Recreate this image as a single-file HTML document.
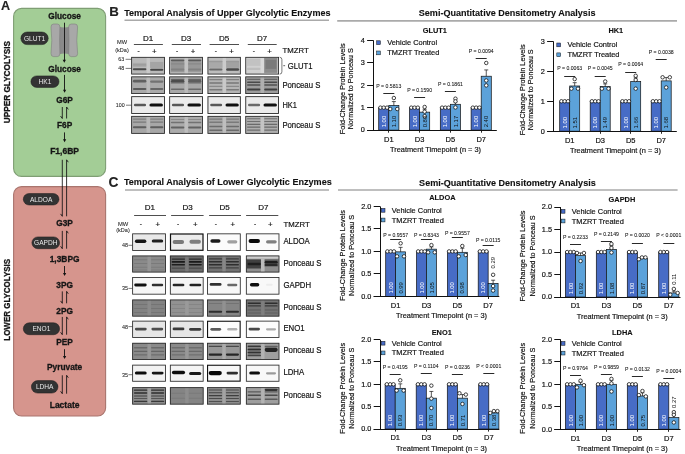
<!DOCTYPE html>
<html><head><meta charset="utf-8"><style>
html,body{margin:0;padding:0;background:#fff;}
svg{display:block;font-family:"Liberation Sans", sans-serif;will-change:transform;}
text{stroke:#111;stroke-width:0.18px;}
text[fill="#fff"]{stroke:#fff;}
text[fill="#e8e8e8"]{stroke:none;}
text[font-weight="bold"]{stroke-width:0.1px;}
text[font-size="5.9"]{stroke-width:0;}
</style></head><body>
<svg width="685" height="454" viewBox="0 0 685 454">
<defs><filter id="b1" x="-20%" y="-50%" width="140%" height="200%"><feGaussianBlur stdDeviation="0.5"/></filter><filter id="bb" x="-10%" y="-30%" width="120%" height="160%" color-interpolation-filters="sRGB"><feGaussianBlur stdDeviation="0.7"/></filter></defs>
<rect width="685" height="454" fill="#fff"/>
<text x="0.90" y="9.90" font-size="12.6" font-weight="bold" text-anchor="start" fill="#222" >A</text><rect x="13.6" y="8.4" width="92" height="168" rx="8" fill="#a3cd96" stroke="#7f9e74" stroke-width="1.1"/><rect x="13.6" y="186.6" width="92" height="229.4" rx="8" fill="#d6958d" stroke="#a9756e" stroke-width="1.1"/><text transform="translate(10.4,123.2) rotate(-90)" font-size="9.2"  font-weight="bold" fill="#161616" style="stroke-width:0.3px;stroke:#161616" textLength="82.2" lengthAdjust="spacingAndGlyphs">UPPER GLYCOLYSIS</text><text transform="translate(10.0,340.7) rotate(-90)" font-size="9.2" font-weight="bold" fill="#161616" style="stroke-width:0.3px;stroke:#161616" textLength="81.8" lengthAdjust="spacingAndGlyphs">LOWER GLYCOLYSIS</text><text x="64.60" y="18.60" font-size="8.3" font-weight="bold" text-anchor="middle" fill="#161616" style="stroke-width:0.3px;stroke:#161616">Glucose</text><text x="64.60" y="71.60" font-size="8.3" font-weight="bold" text-anchor="middle" fill="#161616" style="stroke-width:0.3px;stroke:#161616">Glucose</text><text x="64.60" y="103.20" font-size="8.3" font-weight="bold" text-anchor="middle" fill="#161616" style="stroke-width:0.3px;stroke:#161616">G6P</text><text x="64.60" y="128.40" font-size="8.3" font-weight="bold" text-anchor="middle" fill="#161616" style="stroke-width:0.3px;stroke:#161616">F6P</text><text x="64.60" y="153.60" font-size="8.5" font-weight="bold" text-anchor="middle" fill="#161616" style="stroke-width:0.3px;stroke:#161616">F1,6BP</text><text x="64.60" y="225.80" font-size="8.3" font-weight="bold" text-anchor="middle" fill="#161616" style="stroke-width:0.3px;stroke:#161616">G3P</text><text x="64.60" y="261.80" font-size="8.4" font-weight="bold" text-anchor="middle" fill="#161616" style="stroke-width:0.3px;stroke:#161616">1,3BPG</text><text x="64.60" y="288.20" font-size="8.3" font-weight="bold" text-anchor="middle" fill="#161616" style="stroke-width:0.3px;stroke:#161616">3PG</text><text x="64.60" y="313.60" font-size="8.3" font-weight="bold" text-anchor="middle" fill="#161616" style="stroke-width:0.3px;stroke:#161616">2PG</text><text x="64.60" y="344.90" font-size="8.3" font-weight="bold" text-anchor="middle" fill="#161616" style="stroke-width:0.3px;stroke:#161616">PEP</text><text x="64.60" y="370.20" font-size="8.4" font-weight="bold" text-anchor="middle" fill="#161616" style="stroke-width:0.3px;stroke:#161616">Pyruvate</text><text x="64.60" y="407.60" font-size="8.5" font-weight="bold" text-anchor="middle" fill="#161616" style="stroke-width:0.3px;stroke:#161616">Lactate</text><path d="M58.6,26.4 Q64.3,28.6 70.0,26.4 L70.0,54.6 Q64.3,52.6 58.6,54.6 Z" fill="#8a8a8a"/><path d="M53.6,24 L57.3,24 Q59.9,24 59.9,27 Q59.3,40.3 59.9,53.6 Q59.9,56.6 57.3,56.6 L53.6,56.6 Q51,56.6 51,53.6 Q52.6,40.3 51,27 Q51,24 53.6,24 Z" fill="#a8a8a8" stroke="#7a7a7a" stroke-width="0.55"/><path d="M75.0,24 L71.3,24 Q68.7,24 68.7,27 Q69.3,40.3 68.7,53.6 Q68.7,56.6 71.3,56.6 L75.0,56.6 Q77.6,56.6 77.6,53.6 Q76.0,40.3 77.6,27 Q77.6,24 75.0,24 Z" fill="#a8a8a8" stroke="#7a7a7a" stroke-width="0.55"/><line x1="64.50" y1="22.70" x2="64.50" y2="60.60" stroke="#111" stroke-width="0.9"/><path d="M62.70,59.80 L65.90,59.80 L64.30,62.80 Z" fill="#111"/><line x1="64.50" y1="74.90" x2="64.50" y2="90.50" stroke="#111" stroke-width="0.9"/><path d="M63.00,89.70 L66.20,89.70 L64.60,92.70 Z" fill="#111"/><line x1="64.50" y1="132.40" x2="64.50" y2="140.10" stroke="#111" stroke-width="0.9"/><path d="M63.00,139.30 L66.20,139.30 L64.60,142.30 Z" fill="#111"/><line x1="64.50" y1="266.00" x2="64.50" y2="273.70" stroke="#111" stroke-width="0.9"/><path d="M63.00,272.90 L66.20,272.90 L64.60,275.90 Z" fill="#111"/><line x1="64.50" y1="349.20" x2="64.50" y2="356.90" stroke="#111" stroke-width="0.9"/><path d="M63.00,356.10 L66.20,356.10 L64.60,359.10 Z" fill="#111"/><path d="M62.30,107.00 L62.30,118.50 L60.60,116.10" fill="none" stroke="#111" stroke-width="0.85"/><path d="M66.60,118.50 L66.60,107.00 L68.30,109.40" fill="none" stroke="#111" stroke-width="0.85"/><path d="M62.30,159.80 L62.30,216.30 L60.60,213.90" fill="none" stroke="#111" stroke-width="0.85"/><path d="M66.60,216.30 L66.60,159.80 L68.30,162.20" fill="none" stroke="#111" stroke-width="0.85"/><path d="M62.30,230.90 L62.30,248.70 L60.60,246.30" fill="none" stroke="#111" stroke-width="0.85"/><path d="M66.60,248.70 L66.60,230.90 L68.30,233.30" fill="none" stroke="#111" stroke-width="0.85"/><path d="M62.30,291.40 L62.30,303.30 L60.60,300.90" fill="none" stroke="#111" stroke-width="0.85"/><path d="M66.60,303.30 L66.60,291.40 L68.30,293.80" fill="none" stroke="#111" stroke-width="0.85"/><path d="M62.30,316.90 L62.30,334.70 L60.60,332.30" fill="none" stroke="#111" stroke-width="0.85"/><path d="M66.60,334.70 L66.60,316.90 L68.30,319.30" fill="none" stroke="#111" stroke-width="0.85"/><path d="M62.30,375.30 L62.30,393.70 L60.60,391.30" fill="none" stroke="#111" stroke-width="0.85"/><path d="M66.60,393.70 L66.60,375.30 L68.30,377.70" fill="none" stroke="#111" stroke-width="0.85"/><rect x="20.90" y="32.00" width="27.30" height="12.60" rx="6.30" fill="#333333" stroke="#1c1c1c" stroke-width="0.5"/><text x="34.55" y="40.68" font-size="6.6" text-anchor="middle" fill="#e8e8e8" >GLUT1</text><rect x="30.90" y="75.90" width="28.10" height="11.50" rx="5.75" fill="#333333" stroke="#1c1c1c" stroke-width="0.5"/><text x="44.95" y="84.03" font-size="6.6" text-anchor="middle" fill="#e8e8e8" >HK1</text><rect x="23.30" y="193.50" width="35.70" height="11.50" rx="5.75" fill="#333333" stroke="#1c1c1c" stroke-width="0.5"/><text x="41.15" y="201.63" font-size="6.6" text-anchor="middle" fill="#e8e8e8" >ALDOA</text><rect x="31.90" y="236.90" width="27.70" height="11.80" rx="5.90" fill="#333333" stroke="#1c1c1c" stroke-width="0.5"/><text x="45.75" y="245.18" font-size="6.6" text-anchor="middle" fill="#e8e8e8" >GAPDH</text><rect x="23.30" y="322.80" width="36.30" height="11.90" rx="5.95" fill="#333333" stroke="#1c1c1c" stroke-width="0.5"/><text x="41.45" y="331.13" font-size="6.6" text-anchor="middle" fill="#e8e8e8" >ENO1</text><rect x="31.40" y="380.60" width="26.60" height="12.50" rx="6.25" fill="#333333" stroke="#1c1c1c" stroke-width="0.5"/><text x="44.70" y="389.23" font-size="6.6" text-anchor="middle" fill="#e8e8e8" >LDHA</text><text x="109.20" y="16.00" font-size="13.3" font-weight="bold" text-anchor="start" fill="#222" >B</text><text x="124.20" y="15.80" font-size="9.04" font-weight="bold" text-anchor="start" fill="#111" >Temporal Analysis of Upper Glycolytic Enzymes</text><line x1="124.50" y1="20.30" x2="329.00" y2="20.30" stroke="#aaaaaa" stroke-width="1.6"/><text x="148.10" y="41.20" font-size="8.0" text-anchor="middle" fill="#111" >D1</text><line x1="133.90" y1="44.50" x2="162.90" y2="44.50" stroke="#222" stroke-width="0.8"/><text x="138.60" y="52.70" font-size="6.5" text-anchor="middle" fill="#111" >-</text><text x="154.40" y="53.50" font-size="7.8" text-anchor="middle" fill="#111" >+</text><text x="186.10" y="41.20" font-size="8.0" text-anchor="middle" fill="#111" >D3</text><line x1="171.80" y1="44.50" x2="201.00" y2="44.50" stroke="#222" stroke-width="0.8"/><text x="177.20" y="52.70" font-size="6.5" text-anchor="middle" fill="#111" >-</text><text x="193.00" y="53.50" font-size="7.8" text-anchor="middle" fill="#111" >+</text><text x="224.15" y="41.20" font-size="8.0" text-anchor="middle" fill="#111" >D5</text><line x1="209.60" y1="44.50" x2="239.00" y2="44.50" stroke="#222" stroke-width="0.8"/><text x="215.80" y="52.70" font-size="6.5" text-anchor="middle" fill="#111" >-</text><text x="231.60" y="53.50" font-size="7.8" text-anchor="middle" fill="#111" >+</text><text x="262.15" y="41.20" font-size="8.0" text-anchor="middle" fill="#111" >D7</text><line x1="247.80" y1="44.50" x2="276.70" y2="44.50" stroke="#222" stroke-width="0.8"/><text x="253.80" y="52.70" font-size="6.5" text-anchor="middle" fill="#111" >-</text><text x="269.50" y="53.50" font-size="7.8" text-anchor="middle" fill="#111" >+</text><text x="282.50" y="53.40" font-size="8.0" text-anchor="start" fill="#111" textLength="26.21" lengthAdjust="spacingAndGlyphs">TMZRT</text><text x="122.00" y="43.80" font-size="5.7" text-anchor="middle" fill="#222"  style="stroke-width:0.06px">MW</text><text x="122.00" y="51.60" font-size="5.5" text-anchor="middle" fill="#222"  style="stroke-width:0.06px">(kDa)</text><clipPath id="c1"><rect x="131.20" y="56.90" width="33.80" height="17.60"/></clipPath><g clip-path="url(#c1)"><rect x="131.20" y="56.90" width="33.80" height="17.60" fill="#bababa" /><g filter="url(#bb)"><rect x="132.89" y="62.90" width="13.52" height="4.00" fill="#aaaaaa" /><rect x="150.13" y="61.90" width="13.18" height="6.00" fill="#a4a4a4" /><rect x="132.89" y="68.35" width="13.52" height="1.90" fill="#4a4a4a" rx="0.95"/><rect x="150.13" y="68.65" width="13.18" height="2.10" fill="#454545" rx="1.05"/><rect x="132.89" y="64.20" width="13.52" height="1.40" fill="#9a9a9a" rx="0.70"/><rect x="146.58" y="54.90" width="3.38" height="21.60" fill="#ffffff" opacity="0.22"/></g></g><rect x="131.62" y="57.32" width="32.95" height="16.75" fill="none" stroke="#2a2a2a" stroke-width="0.85"/><clipPath id="c2"><rect x="169.20" y="56.90" width="33.80" height="17.60"/></clipPath><g clip-path="url(#c2)"><rect x="169.20" y="56.90" width="33.80" height="17.60" fill="#b3b3b3" /><g filter="url(#bb)"><rect x="170.89" y="59.60" width="13.52" height="1.80" fill="#5c5c5c" rx="0.90"/><rect x="188.13" y="59.60" width="13.18" height="1.80" fill="#5c5c5c" rx="0.90"/><rect x="170.89" y="61.90" width="13.52" height="10.00" fill="#959595" /><rect x="188.13" y="61.90" width="13.18" height="10.00" fill="#989898" /><rect x="170.89" y="63.30" width="13.52" height="1.20" fill="#888" rx="0.60"/><rect x="188.13" y="63.30" width="13.18" height="1.20" fill="#888" rx="0.60"/><rect x="170.89" y="68.40" width="13.52" height="2.00" fill="#828282" rx="1.00"/><rect x="188.13" y="68.40" width="13.18" height="2.00" fill="#828282" rx="1.00"/><rect x="184.58" y="54.90" width="3.38" height="21.60" fill="#ffffff" opacity="0.22"/></g></g><rect x="169.62" y="57.32" width="32.95" height="16.75" fill="none" stroke="#2a2a2a" stroke-width="0.85"/><clipPath id="c3"><rect x="207.50" y="56.90" width="33.30" height="17.60"/></clipPath><g clip-path="url(#c3)"><rect x="207.50" y="56.90" width="33.30" height="17.60" fill="#bdbdbd" /><g filter="url(#bb)"><rect x="209.16" y="60.90" width="13.32" height="7.00" fill="#a9a9a9" /><rect x="226.15" y="60.90" width="12.99" height="7.00" fill="#a2a2a2" /><rect x="209.16" y="68.40" width="13.32" height="2.20" fill="#6a6a6a" rx="1.10"/><rect x="226.15" y="68.30" width="12.99" height="2.40" fill="#4a4a4a" rx="1.20"/><rect x="209.16" y="60.65" width="13.32" height="1.50" fill="#9a9a9a" rx="0.75"/><rect x="226.15" y="60.65" width="12.99" height="1.50" fill="#9a9a9a" rx="0.75"/><rect x="222.65" y="54.90" width="3.33" height="21.60" fill="#ffffff" opacity="0.22"/></g></g><rect x="207.93" y="57.32" width="32.45" height="16.75" fill="none" stroke="#2a2a2a" stroke-width="0.85"/><clipPath id="c4"><rect x="245.30" y="56.90" width="33.70" height="17.60"/></clipPath><g clip-path="url(#c4)"><rect x="245.30" y="56.90" width="33.70" height="17.60" fill="#d0d0d0" /><g filter="url(#bb)"><rect x="246.99" y="58.90" width="13.48" height="7.00" fill="#c2c2c2" /><rect x="246.99" y="67.85" width="13.48" height="2.10" fill="#bdbdbd" rx="1.05"/><rect x="264.17" y="57.90" width="13.14" height="15.00" fill="#8c8c8c" /><rect x="265.52" y="59.90" width="10.78" height="9.00" fill="#7a7a7a" /><rect x="260.63" y="54.90" width="3.37" height="21.60" fill="#ffffff" opacity="0.2"/></g></g><rect x="245.73" y="57.32" width="32.85" height="16.75" fill="none" stroke="#2a2a2a" stroke-width="0.85"/><clipPath id="c5"><rect x="131.20" y="76.40" width="33.80" height="17.60"/></clipPath><g clip-path="url(#c5)"><rect x="131.20" y="76.40" width="33.80" height="17.60" fill="#a9a9a9" /><g filter="url(#bb)"><rect x="132.89" y="79.80" width="13.52" height="2.80" fill="#606060" rx="1.40"/><rect x="150.13" y="80.40" width="13.18" height="2.40" fill="#727272" rx="1.20"/><rect x="132.89" y="87.90" width="13.52" height="2.20" fill="#5a5a5a" rx="1.10"/><rect x="150.13" y="87.90" width="13.18" height="2.20" fill="#666" rx="1.10"/><rect x="146.58" y="74.40" width="3.38" height="21.60" fill="#ffffff" opacity="0.2"/></g></g><rect x="131.62" y="76.83" width="32.95" height="16.75" fill="none" stroke="#2a2a2a" stroke-width="0.85"/><clipPath id="c6"><rect x="169.20" y="76.40" width="33.80" height="17.60"/></clipPath><g clip-path="url(#c6)"><rect x="169.20" y="76.40" width="33.80" height="17.60" fill="#a8a8a8" /><g filter="url(#bb)"><rect x="170.89" y="78.70" width="13.52" height="1.40" fill="#6a6a6a" rx="0.70"/><rect x="188.13" y="78.70" width="13.18" height="1.40" fill="#6a6a6a" rx="0.70"/><rect x="170.89" y="79.70" width="13.52" height="3.00" fill="#4c4c4c" rx="1.50"/><rect x="188.13" y="79.80" width="13.18" height="2.80" fill="#5e5e5e" rx="1.40"/><rect x="170.89" y="82.20" width="13.52" height="1.40" fill="#6a6a6a" rx="0.70"/><rect x="188.13" y="82.20" width="13.18" height="1.40" fill="#6a6a6a" rx="0.70"/><rect x="170.89" y="88.40" width="13.52" height="1.60" fill="#6a6a6a" rx="0.80"/><rect x="188.13" y="88.40" width="13.18" height="1.60" fill="#6a6a6a" rx="0.80"/><rect x="184.58" y="74.40" width="3.38" height="21.60" fill="#ffffff" opacity="0.2"/></g></g><rect x="169.62" y="76.83" width="32.95" height="16.75" fill="none" stroke="#2a2a2a" stroke-width="0.85"/><clipPath id="c7"><rect x="207.50" y="76.40" width="33.30" height="17.60"/></clipPath><g clip-path="url(#c7)"><rect x="207.50" y="76.40" width="33.30" height="17.60" fill="#b4b4b4" /><g filter="url(#bb)"><rect x="209.16" y="79.00" width="13.32" height="1.20" fill="#808080" rx="0.60"/><rect x="226.15" y="79.00" width="12.99" height="1.20" fill="#808080" rx="0.60"/><rect x="209.16" y="82.20" width="13.32" height="1.60" fill="#777" rx="0.80"/><rect x="226.15" y="82.20" width="12.99" height="1.60" fill="#777" rx="0.80"/><rect x="209.16" y="85.80" width="13.32" height="1.20" fill="#8a8a8a" rx="0.60"/><rect x="226.15" y="85.80" width="12.99" height="1.20" fill="#8a8a8a" rx="0.60"/><rect x="209.16" y="89.00" width="13.32" height="1.60" fill="#7a7a7a" rx="0.80"/><rect x="226.15" y="89.00" width="12.99" height="1.60" fill="#7a7a7a" rx="0.80"/><rect x="222.65" y="74.40" width="3.33" height="21.60" fill="#ffffff" opacity="0.28"/></g></g><rect x="207.93" y="76.83" width="32.45" height="16.75" fill="none" stroke="#2a2a2a" stroke-width="0.85"/><clipPath id="c8"><rect x="245.30" y="76.40" width="33.70" height="17.60"/></clipPath><g clip-path="url(#c8)"><rect x="245.30" y="76.40" width="33.70" height="17.60" fill="#9c9c9c" /><g filter="url(#bb)"><rect x="246.99" y="78.70" width="13.48" height="1.40" fill="#666" rx="0.70"/><rect x="264.17" y="78.70" width="13.14" height="1.40" fill="#666" rx="0.70"/><rect x="246.99" y="81.40" width="13.48" height="1.60" fill="#4a4a4a" rx="0.80"/><rect x="264.17" y="81.40" width="13.14" height="1.60" fill="#4a4a4a" rx="0.80"/><rect x="246.99" y="84.20" width="13.48" height="1.60" fill="#505050" rx="0.80"/><rect x="264.17" y="84.20" width="13.14" height="1.60" fill="#505050" rx="0.80"/><rect x="246.99" y="88.40" width="13.48" height="2.00" fill="#3e3e3e" rx="1.00"/><rect x="264.17" y="88.40" width="13.14" height="2.00" fill="#3e3e3e" rx="1.00"/><rect x="260.63" y="74.40" width="3.37" height="21.60" fill="#ffffff" opacity="0.2"/></g></g><rect x="245.73" y="76.83" width="32.85" height="16.75" fill="none" stroke="#2a2a2a" stroke-width="0.85"/><clipPath id="c9"><rect x="131.20" y="96.20" width="33.80" height="17.70"/></clipPath><g clip-path="url(#c9)"><rect x="131.20" y="96.20" width="33.80" height="17.70" fill="#ebebeb" /><g filter="url(#bb)"><rect x="133.90" y="103.70" width="12.17" height="2.60" fill="#585858" rx="1.30"/><rect x="149.45" y="103.40" width="13.52" height="3.20" fill="#101010" rx="1.60"/></g></g><rect x="131.65" y="96.65" width="32.90" height="16.80" fill="none" stroke="#2a2a2a" stroke-width="0.9"/><clipPath id="c10"><rect x="169.20" y="96.20" width="33.80" height="17.70"/></clipPath><g clip-path="url(#c10)"><rect x="169.20" y="96.20" width="33.80" height="17.70" fill="#ebebeb" /><g filter="url(#bb)"><rect x="171.90" y="103.70" width="12.17" height="2.60" fill="#585858" rx="1.30"/><rect x="187.45" y="103.40" width="13.52" height="3.20" fill="#101010" rx="1.60"/></g></g><rect x="169.65" y="96.65" width="32.90" height="16.80" fill="none" stroke="#2a2a2a" stroke-width="0.9"/><clipPath id="c11"><rect x="207.50" y="96.20" width="33.30" height="17.70"/></clipPath><g clip-path="url(#c11)"><rect x="207.50" y="96.20" width="33.30" height="17.70" fill="#ebebeb" /><g filter="url(#bb)"><rect x="210.16" y="103.70" width="11.99" height="2.60" fill="#585858" rx="1.30"/><rect x="225.48" y="103.40" width="13.32" height="3.20" fill="#101010" rx="1.60"/></g></g><rect x="207.95" y="96.65" width="32.40" height="16.80" fill="none" stroke="#2a2a2a" stroke-width="0.9"/><clipPath id="c12"><rect x="245.30" y="96.20" width="33.70" height="17.70"/></clipPath><g clip-path="url(#c12)"><rect x="245.30" y="96.20" width="33.70" height="17.70" fill="#ebebeb" /><g filter="url(#bb)"><rect x="248.00" y="103.70" width="12.13" height="2.60" fill="#6a6a6a" rx="1.30"/><rect x="263.50" y="103.40" width="13.48" height="3.20" fill="#101010" rx="1.60"/></g></g><rect x="245.75" y="96.65" width="32.80" height="16.80" fill="none" stroke="#2a2a2a" stroke-width="0.9"/><clipPath id="c13"><rect x="131.20" y="115.90" width="33.80" height="17.90"/></clipPath><g clip-path="url(#c13)"><rect x="131.20" y="115.90" width="33.80" height="17.90" fill="#a7a7a7" /><g filter="url(#bb)"><rect x="132.89" y="118.50" width="13.52" height="1.20" fill="#808080" rx="0.60"/><rect x="150.13" y="118.50" width="13.18" height="1.20" fill="#808080" rx="0.60"/><rect x="132.89" y="121.40" width="13.52" height="1.40" fill="#7a7a7a" rx="0.70"/><rect x="150.13" y="121.40" width="13.18" height="1.40" fill="#7a7a7a" rx="0.70"/><rect x="132.89" y="126.30" width="13.52" height="2.00" fill="#5e5e5e" rx="1.00"/><rect x="150.13" y="126.30" width="13.18" height="2.00" fill="#5e5e5e" rx="1.00"/><rect x="146.58" y="113.90" width="3.38" height="21.90" fill="#ffffff" opacity="0.2"/></g></g><rect x="131.62" y="116.33" width="32.95" height="17.05" fill="none" stroke="#2a2a2a" stroke-width="0.85"/><clipPath id="c14"><rect x="169.20" y="115.90" width="33.80" height="17.90"/></clipPath><g clip-path="url(#c14)"><rect x="169.20" y="115.90" width="33.80" height="17.90" fill="#ababab" /><g filter="url(#bb)"><rect x="170.89" y="118.90" width="13.52" height="1.00" fill="#8a8a8a" rx="0.50"/><rect x="188.13" y="118.90" width="13.18" height="1.00" fill="#8a8a8a" rx="0.50"/><rect x="170.89" y="121.70" width="13.52" height="1.60" fill="#727272" rx="0.80"/><rect x="188.13" y="121.70" width="13.18" height="1.60" fill="#727272" rx="0.80"/><rect x="170.89" y="126.50" width="13.52" height="2.00" fill="#626262" rx="1.00"/><rect x="188.13" y="126.50" width="13.18" height="2.00" fill="#626262" rx="1.00"/><rect x="184.58" y="113.90" width="3.38" height="21.90" fill="#ffffff" opacity="0.22"/></g></g><rect x="169.62" y="116.33" width="32.95" height="17.05" fill="none" stroke="#2a2a2a" stroke-width="0.85"/><clipPath id="c15"><rect x="207.50" y="115.90" width="33.30" height="17.90"/></clipPath><g clip-path="url(#c15)"><rect x="207.50" y="115.90" width="33.30" height="17.90" fill="#a6a6a6" /><g filter="url(#bb)"><rect x="209.16" y="118.40" width="13.32" height="1.40" fill="#7a7a7a" rx="0.70"/><rect x="226.15" y="118.40" width="12.99" height="1.40" fill="#7a7a7a" rx="0.70"/><rect x="209.16" y="121.60" width="13.32" height="1.40" fill="#7a7a7a" rx="0.70"/><rect x="226.15" y="121.60" width="12.99" height="1.40" fill="#7a7a7a" rx="0.70"/><rect x="209.16" y="125.70" width="13.32" height="1.60" fill="#6c6c6c" rx="0.80"/><rect x="226.15" y="125.70" width="12.99" height="1.60" fill="#6c6c6c" rx="0.80"/><rect x="209.16" y="129.60" width="13.32" height="1.40" fill="#6a6a6a" rx="0.70"/><rect x="226.15" y="129.60" width="12.99" height="1.40" fill="#6a6a6a" rx="0.70"/><rect x="222.65" y="113.90" width="3.33" height="21.90" fill="#ffffff" opacity="0.28"/></g></g><rect x="207.93" y="116.33" width="32.45" height="17.05" fill="none" stroke="#2a2a2a" stroke-width="0.85"/><clipPath id="c16"><rect x="245.30" y="115.90" width="33.70" height="17.90"/></clipPath><g clip-path="url(#c16)"><rect x="245.30" y="115.90" width="33.70" height="17.90" fill="#aeaeae" /><g filter="url(#bb)"><rect x="246.99" y="118.20" width="13.48" height="1.00" fill="#707070" rx="0.50"/><rect x="264.17" y="118.20" width="13.14" height="1.00" fill="#707070" rx="0.50"/><rect x="246.99" y="121.00" width="13.48" height="1.00" fill="#707070" rx="0.50"/><rect x="264.17" y="121.00" width="13.14" height="1.00" fill="#707070" rx="0.50"/><rect x="246.99" y="123.70" width="13.48" height="1.20" fill="#6a6a6a" rx="0.60"/><rect x="264.17" y="123.70" width="13.14" height="1.20" fill="#6a6a6a" rx="0.60"/><rect x="246.99" y="126.50" width="13.48" height="1.20" fill="#6a6a6a" rx="0.60"/><rect x="264.17" y="126.50" width="13.14" height="1.20" fill="#6a6a6a" rx="0.60"/><rect x="246.99" y="129.50" width="13.48" height="1.20" fill="#6e6e6e" rx="0.60"/><rect x="264.17" y="129.50" width="13.14" height="1.20" fill="#6e6e6e" rx="0.60"/><rect x="260.63" y="113.90" width="3.37" height="21.90" fill="#ffffff" opacity="0.28"/></g></g><rect x="245.73" y="116.33" width="32.85" height="17.05" fill="none" stroke="#2a2a2a" stroke-width="0.85"/><text x="287.70" y="68.60" font-size="8.4" text-anchor="start" fill="#111" textLength="24.82" lengthAdjust="spacingAndGlyphs">GLUT1</text><path d="M279.7,57.3 Q281.9,57.3 281.9,59.6 L281.9,71.8 Q281.9,74.1 279.7,74.1" fill="none" stroke="#222" stroke-width="0.6"/><path d="M283.3,65.7 L285.1,65.7" fill="none" stroke="#222" stroke-width="0.7"/><text x="282.40" y="88.00" font-size="8.3" text-anchor="start" fill="#111" textLength="37.92" lengthAdjust="spacingAndGlyphs">Ponceau S</text><text x="282.40" y="107.80" font-size="8.3" text-anchor="start" fill="#111" textLength="14.49" lengthAdjust="spacingAndGlyphs">HK1</text><text x="282.40" y="127.70" font-size="8.3" text-anchor="start" fill="#111" textLength="37.92" lengthAdjust="spacingAndGlyphs">Ponceau S</text><text x="124.20" y="61.00" font-size="5.3" text-anchor="end" fill="#222"  style="stroke-width:0.06px">63</text><line x1="125.60" y1="59.30" x2="131.40" y2="59.30" stroke="#222" stroke-width="0.6"/><text x="124.20" y="70.00" font-size="5.3" text-anchor="end" fill="#222"  style="stroke-width:0.06px">48</text><line x1="125.60" y1="68.40" x2="131.40" y2="68.40" stroke="#222" stroke-width="0.6"/><text x="124.60" y="107.00" font-size="5.3" text-anchor="end" fill="#222"  style="stroke-width:0.06px">100</text><line x1="126.00" y1="105.20" x2="131.40" y2="105.20" stroke="#222" stroke-width="0.6"/><text x="108.60" y="186.50" font-size="13.8" font-weight="bold" text-anchor="start" fill="#222" >C</text><text x="123.90" y="185.20" font-size="9.08" font-weight="bold" text-anchor="start" fill="#111" >Temporal Analysis of Lower Glycolytic Enzymes</text><line x1="125.00" y1="190.00" x2="329.00" y2="190.00" stroke="#aaaaaa" stroke-width="1.6"/><text x="149.85" y="209.90" font-size="8.0" text-anchor="middle" fill="#111" >D1</text><line x1="134.10" y1="215.50" x2="166.00" y2="215.50" stroke="#222" stroke-width="0.8"/><text x="140.90" y="226.00" font-size="6.5" text-anchor="middle" fill="#111" >-</text><text x="157.90" y="227.00" font-size="7.8" text-anchor="middle" fill="#111" >+</text><text x="187.55" y="209.90" font-size="8.0" text-anchor="middle" fill="#111" >D3</text><line x1="171.10" y1="215.50" x2="203.60" y2="215.50" stroke="#222" stroke-width="0.8"/><text x="178.20" y="226.00" font-size="6.5" text-anchor="middle" fill="#111" >-</text><text x="195.20" y="227.00" font-size="7.8" text-anchor="middle" fill="#111" >+</text><text x="224.65" y="209.90" font-size="8.0" text-anchor="middle" fill="#111" >D5</text><line x1="209.10" y1="215.50" x2="241.00" y2="215.50" stroke="#222" stroke-width="0.8"/><text x="215.80" y="226.00" font-size="6.5" text-anchor="middle" fill="#111" >-</text><text x="232.80" y="227.00" font-size="7.8" text-anchor="middle" fill="#111" >+</text><text x="263.45" y="209.90" font-size="8.0" text-anchor="middle" fill="#111" >D7</text><line x1="246.10" y1="215.50" x2="278.30" y2="215.50" stroke="#222" stroke-width="0.8"/><text x="255.10" y="226.00" font-size="6.5" text-anchor="middle" fill="#111" >-</text><text x="270.40" y="227.00" font-size="7.8" text-anchor="middle" fill="#111" >+</text><text x="283.60" y="226.60" font-size="8.0" text-anchor="start" fill="#111" textLength="26.21" lengthAdjust="spacingAndGlyphs">TMZRT</text><text x="123.10" y="225.80" font-size="5.8" text-anchor="middle" fill="#222"  style="stroke-width:0.06px">MW</text><text x="123.00" y="232.30" font-size="5.5" text-anchor="middle" fill="#222"  style="stroke-width:0.06px">(kDa)</text><clipPath id="c17"><rect x="132.20" y="233.40" width="33.70" height="17.50"/></clipPath><g clip-path="url(#c17)"><rect x="132.20" y="233.40" width="33.70" height="17.50" fill="#e9e9e9" /><g filter="url(#bb)"><rect x="134.90" y="239.50" width="11.46" height="3.40" fill="#151515" rx="1.70"/><rect x="151.75" y="239.40" width="11.46" height="3.20" fill="#1e1e1e" rx="1.60"/></g></g><rect x="132.62" y="233.83" width="32.85" height="16.65" fill="none" stroke="#2a2a2a" stroke-width="0.85"/><clipPath id="c18"><rect x="169.90" y="233.40" width="33.70" height="17.50"/></clipPath><g clip-path="url(#c18)"><rect x="169.90" y="233.40" width="33.70" height="17.50" fill="#ececec" /><g filter="url(#bb)"><rect x="172.60" y="240.00" width="11.46" height="4.00" fill="#7a7a7a" rx="2.00"/><rect x="189.45" y="239.80" width="11.46" height="4.00" fill="#7e7e7e" rx="2.00"/></g></g><rect x="170.50" y="234.00" width="32.50" height="16.30" fill="none" stroke="#111" stroke-width="1.2"/><clipPath id="c19"><rect x="207.00" y="233.40" width="33.70" height="17.50"/></clipPath><g clip-path="url(#c19)"><rect x="207.00" y="233.40" width="33.70" height="17.50" fill="#fbfbfb" /><g filter="url(#bb)"><rect x="210.37" y="239.30" width="10.11" height="3.40" fill="#1a1a1a" rx="1.70"/><rect x="227.22" y="240.20" width="10.11" height="3.20" fill="#a0a0a0" rx="1.60"/></g></g><rect x="207.43" y="233.83" width="32.85" height="16.65" fill="none" stroke="#2a2a2a" stroke-width="0.85"/><clipPath id="c20"><rect x="245.90" y="233.40" width="33.50" height="17.50"/></clipPath><g clip-path="url(#c20)"><rect x="245.90" y="233.40" width="33.50" height="17.50" fill="#fbfbfb" /><g filter="url(#bb)"><rect x="248.58" y="239.00" width="11.39" height="4.00" fill="#0a0a0a" rx="2.00"/><rect x="266.00" y="240.20" width="10.72" height="3.20" fill="#808080" rx="1.60"/></g></g><rect x="246.33" y="233.83" width="32.65" height="16.65" fill="none" stroke="#2a2a2a" stroke-width="0.85"/><clipPath id="c21"><rect x="132.20" y="255.50" width="33.70" height="17.00"/></clipPath><g clip-path="url(#c21)"><rect x="132.20" y="255.50" width="33.70" height="17.00" fill="#8a8a8a" /><g filter="url(#bb)"><rect x="133.88" y="259.20" width="13.48" height="1.00" fill="#7a7a7a" rx="0.50"/><rect x="151.07" y="259.20" width="13.14" height="1.00" fill="#7a7a7a" rx="0.50"/><rect x="133.88" y="263.00" width="13.48" height="1.00" fill="#7a7a7a" rx="0.50"/><rect x="151.07" y="263.00" width="13.14" height="1.00" fill="#7a7a7a" rx="0.50"/><rect x="133.88" y="266.80" width="13.48" height="1.00" fill="#7c7c7c" rx="0.50"/><rect x="151.07" y="266.80" width="13.14" height="1.00" fill="#7c7c7c" rx="0.50"/><rect x="133.88" y="269.50" width="13.48" height="1.00" fill="#7c7c7c" rx="0.50"/><rect x="151.07" y="269.50" width="13.14" height="1.00" fill="#7c7c7c" rx="0.50"/><rect x="147.53" y="253.50" width="3.37" height="21.00" fill="#ffffff" opacity="0.1"/></g></g><rect x="132.62" y="255.93" width="32.85" height="16.15" fill="none" stroke="#2a2a2a" stroke-width="0.85"/><clipPath id="c22"><rect x="169.90" y="255.50" width="33.70" height="17.00"/></clipPath><g clip-path="url(#c22)"><rect x="169.90" y="255.50" width="33.70" height="17.00" fill="#6a6a6a" /><g filter="url(#bb)"><rect x="171.59" y="258.40" width="13.48" height="1.40" fill="#2a2a2a" rx="0.70"/><rect x="188.77" y="258.40" width="13.14" height="1.40" fill="#2a2a2a" rx="0.70"/><rect x="171.59" y="261.10" width="13.48" height="1.60" fill="#1a1a1a" rx="0.80"/><rect x="188.77" y="261.10" width="13.14" height="1.60" fill="#1a1a1a" rx="0.80"/><rect x="171.59" y="263.90" width="13.48" height="1.60" fill="#1e1e1e" rx="0.80"/><rect x="188.77" y="263.90" width="13.14" height="1.60" fill="#1e1e1e" rx="0.80"/><rect x="171.59" y="267.50" width="13.48" height="1.20" fill="#4a4a4a" rx="0.60"/><rect x="188.77" y="267.50" width="13.14" height="1.20" fill="#4a4a4a" rx="0.60"/><rect x="185.23" y="253.50" width="3.37" height="21.00" fill="#ffffff" opacity="0.1"/></g></g><rect x="170.33" y="255.93" width="32.85" height="16.15" fill="none" stroke="#2a2a2a" stroke-width="0.85"/><clipPath id="c23"><rect x="207.00" y="255.50" width="33.70" height="17.00"/></clipPath><g clip-path="url(#c23)"><rect x="207.00" y="255.50" width="33.70" height="17.00" fill="#727272" /><g filter="url(#bb)"><rect x="208.69" y="258.20" width="13.48" height="1.40" fill="#3a3a3a" rx="0.70"/><rect x="225.87" y="258.20" width="13.14" height="1.40" fill="#3a3a3a" rx="0.70"/><rect x="208.69" y="260.90" width="13.48" height="1.60" fill="#2e2e2e" rx="0.80"/><rect x="225.87" y="260.90" width="13.14" height="1.60" fill="#2e2e2e" rx="0.80"/><rect x="208.69" y="263.90" width="13.48" height="1.60" fill="#2e2e2e" rx="0.80"/><rect x="225.87" y="263.90" width="13.14" height="1.60" fill="#2e2e2e" rx="0.80"/><rect x="208.69" y="267.20" width="13.48" height="1.40" fill="#404040" rx="0.70"/><rect x="225.87" y="267.20" width="13.14" height="1.40" fill="#404040" rx="0.70"/><rect x="222.33" y="253.50" width="3.37" height="21.00" fill="#ffffff" opacity="0.15"/></g></g><rect x="207.43" y="255.93" width="32.85" height="16.15" fill="none" stroke="#2a2a2a" stroke-width="0.85"/><clipPath id="c24"><rect x="245.90" y="255.50" width="33.50" height="17.00"/></clipPath><g clip-path="url(#c24)"><rect x="245.90" y="255.50" width="33.50" height="17.00" fill="#8e8e8e" /><g filter="url(#bb)"><rect x="245.90" y="255.50" width="33.50" height="3.20" fill="#cdcdcd" /><rect x="246.91" y="259.50" width="14.07" height="9.00" fill="#404040" /><rect x="247.58" y="262.70" width="13.40" height="2.60" fill="#1e1e1e" rx="1.30"/><rect x="260.97" y="258.50" width="3.68" height="14.00" fill="#bbbbbb" /><rect x="264.66" y="259.50" width="13.06" height="7.00" fill="#5a5a5a" /><rect x="264.66" y="261.00" width="13.06" height="2.60" fill="#1e1e1e" rx="1.30"/><rect x="264.66" y="263.90" width="13.06" height="2.20" fill="#2a2a2a" rx="1.10"/></g></g><rect x="246.33" y="255.93" width="32.65" height="16.15" fill="none" stroke="#2a2a2a" stroke-width="0.85"/><clipPath id="c25"><rect x="132.20" y="277.00" width="33.70" height="17.60"/></clipPath><g clip-path="url(#c25)"><rect x="132.20" y="277.00" width="33.70" height="17.60" fill="#f6f6f6" /><g filter="url(#bb)"><rect x="134.22" y="283.60" width="12.47" height="2.80" fill="#101010" rx="1.40"/><rect x="151.75" y="283.80" width="11.46" height="2.40" fill="#303030" rx="1.20"/></g></g><rect x="132.62" y="277.43" width="32.85" height="16.75" fill="none" stroke="#2a2a2a" stroke-width="0.85"/><clipPath id="c26"><rect x="169.90" y="277.00" width="33.70" height="17.60"/></clipPath><g clip-path="url(#c26)"><rect x="169.90" y="277.00" width="33.70" height="17.60" fill="#f4f4f4" /><g filter="url(#bb)"><rect x="172.60" y="283.70" width="11.79" height="2.60" fill="#262626" rx="1.30"/><rect x="189.45" y="283.70" width="11.79" height="2.60" fill="#222" rx="1.30"/></g></g><rect x="170.33" y="277.43" width="32.85" height="16.75" fill="none" stroke="#2a2a2a" stroke-width="0.85"/><clipPath id="c27"><rect x="207.00" y="277.00" width="33.70" height="17.60"/></clipPath><g clip-path="url(#c27)"><rect x="207.00" y="277.00" width="33.70" height="17.60" fill="#f8f8f8" /><g filter="url(#bb)"><rect x="209.70" y="283.10" width="11.79" height="2.60" fill="#303030" rx="1.30"/><rect x="227.22" y="283.80" width="10.11" height="2.40" fill="#6a6a6a" rx="1.20"/></g></g><rect x="207.43" y="277.43" width="32.85" height="16.75" fill="none" stroke="#2a2a2a" stroke-width="0.85"/><clipPath id="c28"><rect x="245.90" y="277.00" width="33.50" height="17.60"/></clipPath><g clip-path="url(#c28)"><rect x="245.90" y="277.00" width="33.50" height="17.60" fill="#f8f8f8" /><g filter="url(#bb)"><rect x="249.92" y="283.10" width="9.38" height="3.40" fill="#0e0e0e" rx="1.70"/><rect x="266.00" y="283.75" width="6.70" height="2.10" fill="#ececec" rx="1.05"/></g></g><rect x="246.33" y="277.43" width="32.65" height="16.75" fill="none" stroke="#2a2a2a" stroke-width="0.85"/><clipPath id="c29"><rect x="132.20" y="299.50" width="33.70" height="17.10"/></clipPath><g clip-path="url(#c29)"><rect x="132.20" y="299.50" width="33.70" height="17.10" fill="#828282" /><g filter="url(#bb)"><rect x="133.88" y="304.00" width="13.48" height="1.00" fill="#747474" rx="0.50"/><rect x="151.07" y="304.00" width="13.14" height="1.00" fill="#747474" rx="0.50"/><rect x="133.88" y="308.00" width="13.48" height="1.00" fill="#747474" rx="0.50"/><rect x="151.07" y="308.00" width="13.14" height="1.00" fill="#747474" rx="0.50"/><rect x="133.88" y="312.00" width="13.48" height="1.00" fill="#747474" rx="0.50"/><rect x="151.07" y="312.00" width="13.14" height="1.00" fill="#747474" rx="0.50"/><rect x="147.53" y="297.50" width="3.37" height="21.10" fill="#ffffff" opacity="0.08"/></g></g><rect x="132.62" y="299.93" width="32.85" height="16.25" fill="none" stroke="#2a2a2a" stroke-width="0.85"/><clipPath id="c30"><rect x="169.90" y="299.50" width="33.70" height="17.10"/></clipPath><g clip-path="url(#c30)"><rect x="169.90" y="299.50" width="33.70" height="17.10" fill="#929292" /><g filter="url(#bb)"><rect x="171.59" y="304.00" width="13.48" height="1.00" fill="#858585" rx="0.50"/><rect x="188.77" y="304.00" width="13.14" height="1.00" fill="#858585" rx="0.50"/><rect x="171.59" y="308.00" width="13.48" height="1.00" fill="#858585" rx="0.50"/><rect x="188.77" y="308.00" width="13.14" height="1.00" fill="#858585" rx="0.50"/><rect x="171.59" y="312.00" width="13.48" height="1.00" fill="#858585" rx="0.50"/><rect x="188.77" y="312.00" width="13.14" height="1.00" fill="#858585" rx="0.50"/><rect x="185.23" y="297.50" width="3.37" height="21.10" fill="#ffffff" opacity="0.08"/></g></g><rect x="170.33" y="299.93" width="32.85" height="16.25" fill="none" stroke="#2a2a2a" stroke-width="0.85"/><clipPath id="c31"><rect x="207.00" y="299.50" width="33.70" height="17.10"/></clipPath><g clip-path="url(#c31)"><rect x="207.00" y="299.50" width="33.70" height="17.10" fill="#858585" /><g filter="url(#bb)"><rect x="208.69" y="303.00" width="13.48" height="1.00" fill="#737373" rx="0.50"/><rect x="225.87" y="303.00" width="13.14" height="1.00" fill="#737373" rx="0.50"/><rect x="208.69" y="310.70" width="13.48" height="2.00" fill="#2e2e2e" rx="1.00"/><rect x="225.87" y="310.70" width="13.14" height="2.00" fill="#2e2e2e" rx="1.00"/><rect x="222.33" y="297.50" width="3.37" height="21.10" fill="#ffffff" opacity="0.1"/></g></g><rect x="207.43" y="299.93" width="32.85" height="16.25" fill="none" stroke="#2a2a2a" stroke-width="0.85"/><clipPath id="c32"><rect x="245.90" y="299.50" width="33.50" height="17.10"/></clipPath><g clip-path="url(#c32)"><rect x="245.90" y="299.50" width="33.50" height="17.10" fill="#737373" /><g filter="url(#bb)"><rect x="247.58" y="302.50" width="13.40" height="1.60" fill="#2e2e2e" rx="0.80"/><rect x="264.66" y="302.50" width="13.06" height="1.60" fill="#2e2e2e" rx="0.80"/><rect x="247.58" y="305.20" width="13.40" height="1.40" fill="#3a3a3a" rx="0.70"/><rect x="264.66" y="305.20" width="13.06" height="1.40" fill="#3a3a3a" rx="0.70"/><rect x="247.58" y="309.50" width="13.40" height="1.00" fill="#5a5a5a" rx="0.50"/><rect x="264.66" y="309.50" width="13.06" height="1.00" fill="#5a5a5a" rx="0.50"/><rect x="247.58" y="312.50" width="13.40" height="1.00" fill="#5e5e5e" rx="0.50"/><rect x="264.66" y="312.50" width="13.06" height="1.00" fill="#5e5e5e" rx="0.50"/><rect x="261.14" y="297.50" width="3.35" height="21.10" fill="#ffffff" opacity="0.08"/></g></g><rect x="246.33" y="299.93" width="32.65" height="16.25" fill="none" stroke="#2a2a2a" stroke-width="0.85"/><clipPath id="c33"><rect x="132.20" y="320.70" width="33.70" height="17.30"/></clipPath><g clip-path="url(#c33)"><rect x="132.20" y="320.70" width="33.70" height="17.30" fill="#e6e6e6" /><g filter="url(#bb)"><rect x="134.90" y="327.80" width="11.80" height="2.60" fill="#4a4a4a" rx="1.30"/><rect x="151.41" y="327.80" width="11.80" height="2.60" fill="#4e4e4e" rx="1.30"/></g></g><rect x="132.62" y="321.12" width="32.85" height="16.45" fill="none" stroke="#2a2a2a" stroke-width="0.85"/><clipPath id="c34"><rect x="169.90" y="320.70" width="33.70" height="17.30"/></clipPath><g clip-path="url(#c34)"><rect x="169.90" y="320.70" width="33.70" height="17.30" fill="#e6e6e6" /><g filter="url(#bb)"><rect x="172.60" y="327.60" width="11.79" height="2.60" fill="#3a3a3a" rx="1.30"/><rect x="189.11" y="327.90" width="12.13" height="2.80" fill="#3a3a3a" rx="1.40"/></g></g><rect x="170.33" y="321.12" width="32.85" height="16.45" fill="none" stroke="#2a2a2a" stroke-width="0.85"/><clipPath id="c35"><rect x="207.00" y="320.70" width="33.70" height="17.30"/></clipPath><g clip-path="url(#c35)"><rect x="207.00" y="320.70" width="33.70" height="17.30" fill="#fcfcfc" /><g filter="url(#bb)"><rect x="210.37" y="327.90" width="10.78" height="2.80" fill="#5a5a5a" rx="1.40"/><rect x="227.22" y="328.10" width="10.11" height="2.40" fill="#b0b0b0" rx="1.20"/></g></g><rect x="207.55" y="321.25" width="32.60" height="16.20" fill="none" stroke="#111" stroke-width="1.1"/><clipPath id="c36"><rect x="245.90" y="320.70" width="33.50" height="17.30"/></clipPath><g clip-path="url(#c36)"><rect x="245.90" y="320.70" width="33.50" height="17.30" fill="#fcfcfc" /><g filter="url(#bb)"><rect x="248.58" y="327.80" width="11.39" height="2.60" fill="#484848" rx="1.30"/><rect x="266.00" y="328.20" width="10.05" height="2.20" fill="#aaaaaa" rx="1.10"/></g></g><rect x="246.33" y="321.12" width="32.65" height="16.45" fill="none" stroke="#2a2a2a" stroke-width="0.85"/><clipPath id="c37"><rect x="132.20" y="342.80" width="33.70" height="17.20"/></clipPath><g clip-path="url(#c37)"><rect x="132.20" y="342.80" width="33.70" height="17.20" fill="#8a8a8a" /><g filter="url(#bb)"><rect x="133.88" y="347.10" width="13.48" height="1.40" fill="#6a6a6a" rx="0.70"/><rect x="151.07" y="347.10" width="13.14" height="1.40" fill="#6a6a6a" rx="0.70"/><rect x="133.88" y="350.70" width="13.48" height="1.40" fill="#666" rx="0.70"/><rect x="151.07" y="350.70" width="13.14" height="1.40" fill="#666" rx="0.70"/><rect x="133.88" y="354.20" width="13.48" height="1.20" fill="#6e6e6e" rx="0.60"/><rect x="151.07" y="354.20" width="13.14" height="1.20" fill="#6e6e6e" rx="0.60"/><rect x="147.53" y="340.80" width="3.37" height="21.20" fill="#ffffff" opacity="0.12"/></g></g><rect x="132.62" y="343.23" width="32.85" height="16.35" fill="none" stroke="#2a2a2a" stroke-width="0.85"/><clipPath id="c38"><rect x="169.90" y="342.80" width="33.70" height="17.20"/></clipPath><g clip-path="url(#c38)"><rect x="169.90" y="342.80" width="33.70" height="17.20" fill="#8a8a8a" /><g filter="url(#bb)"><rect x="171.59" y="347.10" width="13.48" height="1.40" fill="#6e6e6e" rx="0.70"/><rect x="188.77" y="347.10" width="13.14" height="1.40" fill="#6e6e6e" rx="0.70"/><rect x="171.59" y="350.70" width="13.48" height="1.40" fill="#6a6a6a" rx="0.70"/><rect x="188.77" y="350.70" width="13.14" height="1.40" fill="#6a6a6a" rx="0.70"/><rect x="171.59" y="354.20" width="13.48" height="1.20" fill="#707070" rx="0.60"/><rect x="188.77" y="354.20" width="13.14" height="1.20" fill="#707070" rx="0.60"/><rect x="185.23" y="340.80" width="3.37" height="21.20" fill="#ffffff" opacity="0.12"/></g></g><rect x="170.33" y="343.23" width="32.85" height="16.35" fill="none" stroke="#2a2a2a" stroke-width="0.85"/><clipPath id="c39"><rect x="207.00" y="342.80" width="33.70" height="17.20"/></clipPath><g clip-path="url(#c39)"><rect x="207.00" y="342.80" width="33.70" height="17.20" fill="#979797" /><g filter="url(#bb)"><rect x="208.69" y="345.70" width="13.48" height="1.40" fill="#4a4a4a" rx="0.70"/><rect x="225.87" y="345.70" width="13.14" height="1.40" fill="#4a4a4a" rx="0.70"/><rect x="208.69" y="353.50" width="13.48" height="2.20" fill="#262626" rx="1.10"/><rect x="225.87" y="353.50" width="13.14" height="2.20" fill="#262626" rx="1.10"/><rect x="222.33" y="340.80" width="3.37" height="21.20" fill="#ffffff" opacity="0.2"/></g></g><rect x="207.43" y="343.23" width="32.85" height="16.35" fill="none" stroke="#2a2a2a" stroke-width="0.85"/><clipPath id="c40"><rect x="245.90" y="342.80" width="33.50" height="17.20"/></clipPath><g clip-path="url(#c40)"><rect x="245.90" y="342.80" width="33.50" height="17.20" fill="#9e9e9e" /><g filter="url(#bb)"><rect x="247.58" y="345.50" width="13.40" height="1.80" fill="#3a3a3a" rx="0.90"/><rect x="247.58" y="348.40" width="13.40" height="2.00" fill="#2e2e2e" rx="1.00"/><rect x="247.58" y="351.40" width="13.40" height="2.00" fill="#333" rx="1.00"/><rect x="247.58" y="354.50" width="13.40" height="1.80" fill="#444" rx="0.90"/><rect x="264.66" y="347.70" width="13.06" height="4.20" fill="#242424" rx="2.10"/><rect x="264.66" y="345.80" width="13.06" height="1.60" fill="#606060" rx="0.80"/><rect x="261.14" y="340.80" width="3.35" height="21.20" fill="#ffffff" opacity="0.22"/></g></g><rect x="246.33" y="343.23" width="32.65" height="16.35" fill="none" stroke="#2a2a2a" stroke-width="0.85"/><clipPath id="c41"><rect x="132.20" y="364.70" width="33.70" height="17.00"/></clipPath><g clip-path="url(#c41)"><rect x="132.20" y="364.70" width="33.70" height="17.00" fill="#f2f2f2" /><g filter="url(#bb)"><rect x="134.90" y="371.60" width="11.80" height="3.00" fill="#0c0c0c" rx="1.50"/><rect x="151.75" y="371.70" width="11.79" height="2.80" fill="#161616" rx="1.40"/></g></g><rect x="132.62" y="365.12" width="32.85" height="16.15" fill="none" stroke="#2a2a2a" stroke-width="0.85"/><clipPath id="c42"><rect x="169.90" y="364.70" width="33.70" height="17.00"/></clipPath><g clip-path="url(#c42)"><rect x="169.90" y="364.70" width="33.70" height="17.00" fill="#f4f4f4" /><g filter="url(#bb)"><rect x="171.92" y="370.80" width="13.14" height="3.40" fill="#0e0e0e" rx="1.70"/><rect x="189.11" y="371.90" width="12.13" height="3.20" fill="#1a1a1a" rx="1.60"/></g></g><rect x="170.33" y="365.12" width="32.85" height="16.15" fill="none" stroke="#2a2a2a" stroke-width="0.85"/><clipPath id="c43"><rect x="207.00" y="364.70" width="33.70" height="17.00"/></clipPath><g clip-path="url(#c43)"><rect x="207.00" y="364.70" width="33.70" height="17.00" fill="#f6f6f6" /><g filter="url(#bb)"><rect x="208.69" y="371.00" width="13.14" height="4.20" fill="#050505" rx="2.10"/><rect x="226.55" y="371.80" width="11.46" height="2.60" fill="#2e2e2e" rx="1.30"/></g></g><rect x="207.55" y="365.25" width="32.60" height="15.90" fill="none" stroke="#111" stroke-width="1.1"/><clipPath id="c44"><rect x="245.90" y="364.70" width="33.50" height="17.00"/></clipPath><g clip-path="url(#c44)"><rect x="245.90" y="364.70" width="33.50" height="17.00" fill="#f8f8f8" /><g filter="url(#bb)"><rect x="249.25" y="371.60" width="10.72" height="3.00" fill="#0e0e0e" rx="1.50"/><rect x="266.00" y="372.20" width="10.05" height="2.20" fill="#9a9a9a" rx="1.10"/></g></g><rect x="246.33" y="365.12" width="32.65" height="16.15" fill="none" stroke="#2a2a2a" stroke-width="0.85"/><clipPath id="c45"><rect x="132.20" y="387.20" width="33.70" height="17.40"/></clipPath><g clip-path="url(#c45)"><rect x="132.20" y="387.20" width="33.70" height="17.40" fill="#8c8c8c" /><g filter="url(#bb)"><rect x="133.88" y="389.60" width="13.48" height="1.20" fill="#2e2e2e" rx="0.60"/><rect x="151.07" y="389.60" width="13.14" height="1.20" fill="#2e2e2e" rx="0.60"/><rect x="133.88" y="392.20" width="13.48" height="1.60" fill="#2e2e2e" rx="0.80"/><rect x="151.07" y="392.20" width="13.14" height="1.60" fill="#2e2e2e" rx="0.80"/><rect x="133.88" y="395.40" width="13.48" height="1.20" fill="#404040" rx="0.60"/><rect x="151.07" y="395.40" width="13.14" height="1.20" fill="#404040" rx="0.60"/><rect x="133.88" y="398.10" width="13.48" height="1.00" fill="#555" rx="0.50"/><rect x="151.07" y="398.10" width="13.14" height="1.00" fill="#555" rx="0.50"/><rect x="133.88" y="400.70" width="13.48" height="1.40" fill="#3a3a3a" rx="0.70"/><rect x="151.07" y="400.70" width="13.14" height="1.40" fill="#3a3a3a" rx="0.70"/><rect x="147.53" y="385.20" width="3.37" height="21.40" fill="#ffffff" opacity="0.2"/></g></g><rect x="132.62" y="387.62" width="32.85" height="16.55" fill="none" stroke="#2a2a2a" stroke-width="0.85"/><clipPath id="c46"><rect x="169.90" y="387.20" width="33.70" height="17.40"/></clipPath><g clip-path="url(#c46)"><rect x="169.90" y="387.20" width="33.70" height="17.40" fill="#848484" /><g filter="url(#bb)"><rect x="171.59" y="392.70" width="13.48" height="1.00" fill="#7a7a7a" rx="0.50"/><rect x="188.77" y="392.70" width="13.14" height="1.00" fill="#7a7a7a" rx="0.50"/><rect x="171.59" y="397.70" width="13.48" height="1.00" fill="#7a7a7a" rx="0.50"/><rect x="188.77" y="397.70" width="13.14" height="1.00" fill="#7a7a7a" rx="0.50"/><rect x="185.23" y="385.20" width="3.37" height="21.40" fill="#ffffff" opacity="0.08"/></g></g><rect x="170.33" y="387.62" width="32.85" height="16.55" fill="none" stroke="#2a2a2a" stroke-width="0.85"/><clipPath id="c47"><rect x="207.00" y="387.20" width="33.70" height="17.40"/></clipPath><g clip-path="url(#c47)"><rect x="207.00" y="387.20" width="33.70" height="17.40" fill="#8c8c8c" /><g filter="url(#bb)"><rect x="208.69" y="389.50" width="13.48" height="1.00" fill="#4a4a4a" rx="0.50"/><rect x="225.87" y="389.50" width="13.14" height="1.00" fill="#4a4a4a" rx="0.50"/><rect x="208.69" y="392.30" width="13.48" height="1.00" fill="#444" rx="0.50"/><rect x="225.87" y="392.30" width="13.14" height="1.00" fill="#444" rx="0.50"/><rect x="208.69" y="395.00" width="13.48" height="1.20" fill="#3e3e3e" rx="0.60"/><rect x="225.87" y="395.00" width="13.14" height="1.20" fill="#3e3e3e" rx="0.60"/><rect x="208.69" y="397.90" width="13.48" height="1.00" fill="#4a4a4a" rx="0.50"/><rect x="225.87" y="397.90" width="13.14" height="1.00" fill="#4a4a4a" rx="0.50"/><rect x="208.69" y="400.90" width="13.48" height="1.00" fill="#505050" rx="0.50"/><rect x="225.87" y="400.90" width="13.14" height="1.00" fill="#505050" rx="0.50"/><rect x="222.33" y="385.20" width="3.37" height="21.40" fill="#ffffff" opacity="0.2"/></g></g><rect x="207.43" y="387.62" width="32.85" height="16.55" fill="none" stroke="#2a2a2a" stroke-width="0.85"/><clipPath id="c48"><rect x="245.90" y="387.20" width="33.50" height="17.40"/></clipPath><g clip-path="url(#c48)"><rect x="245.90" y="387.20" width="33.50" height="17.40" fill="#9e9e9e" /><g filter="url(#bb)"><rect x="264.66" y="388.70" width="13.06" height="2.20" fill="#333" rx="1.10"/><rect x="247.58" y="391.20" width="13.40" height="1.20" fill="#5a5a5a" rx="0.60"/><rect x="264.66" y="391.20" width="13.06" height="1.20" fill="#5a5a5a" rx="0.60"/><rect x="247.58" y="394.50" width="13.40" height="1.40" fill="#4a4a4a" rx="0.70"/><rect x="264.66" y="394.50" width="13.06" height="1.40" fill="#4a4a4a" rx="0.70"/><rect x="247.58" y="398.50" width="13.40" height="1.40" fill="#5a5a5a" rx="0.70"/><rect x="264.66" y="398.50" width="13.06" height="1.40" fill="#5a5a5a" rx="0.70"/><rect x="261.14" y="385.20" width="3.35" height="21.40" fill="#ffffff" opacity="0.22"/></g></g><rect x="246.33" y="387.62" width="32.65" height="16.55" fill="none" stroke="#2a2a2a" stroke-width="0.85"/><text x="283.40" y="243.90" font-size="8.2" text-anchor="start" fill="#111" textLength="26.44" lengthAdjust="spacingAndGlyphs">ALDOA</text><text x="283.40" y="265.75" font-size="8.2" text-anchor="start" fill="#111" textLength="38.16" lengthAdjust="spacingAndGlyphs">Ponceau S</text><text x="283.40" y="287.55" font-size="8.2" text-anchor="start" fill="#111" textLength="27.74" lengthAdjust="spacingAndGlyphs">GAPDH</text><text x="283.40" y="309.80" font-size="8.2" text-anchor="start" fill="#111" textLength="38.16" lengthAdjust="spacingAndGlyphs">Ponceau S</text><text x="283.40" y="331.10" font-size="8.2" text-anchor="start" fill="#111" textLength="21.24" lengthAdjust="spacingAndGlyphs">ENO1</text><text x="283.40" y="353.15" font-size="8.2" text-anchor="start" fill="#111" textLength="38.16" lengthAdjust="spacingAndGlyphs">Ponceau S</text><text x="283.40" y="374.95" font-size="8.2" text-anchor="start" fill="#111" textLength="20.81" lengthAdjust="spacingAndGlyphs">LDHA</text><text x="283.40" y="397.65" font-size="8.2" text-anchor="start" fill="#111" textLength="38.16" lengthAdjust="spacingAndGlyphs">Ponceau S</text><text x="127.90" y="247.20" font-size="5.4" text-anchor="end" fill="#222"  style="stroke-width:0.06px">48</text><line x1="128.40" y1="245.30" x2="132.40" y2="245.30" stroke="#222" stroke-width="0.6"/><text x="127.90" y="290.30" font-size="5.4" text-anchor="end" fill="#222"  style="stroke-width:0.06px">35</text><line x1="128.40" y1="288.40" x2="132.40" y2="288.40" stroke="#222" stroke-width="0.6"/><text x="127.90" y="328.50" font-size="5.4" text-anchor="end" fill="#222"  style="stroke-width:0.06px">48</text><line x1="128.40" y1="326.60" x2="132.40" y2="326.60" stroke="#222" stroke-width="0.6"/><text x="127.90" y="376.60" font-size="5.4" text-anchor="end" fill="#222"  style="stroke-width:0.06px">35</text><line x1="128.40" y1="374.70" x2="132.40" y2="374.70" stroke="#222" stroke-width="0.6"/><text x="418.80" y="16.30" font-size="9.05" font-weight="bold" text-anchor="start" fill="#111" >Semi-Quantitative Densitometry Analysis</text><line x1="337.20" y1="20.90" x2="677.00" y2="20.90" stroke="#aaaaaa" stroke-width="1.6"/><text x="419.10" y="185.50" font-size="9.05" font-weight="bold" text-anchor="start" fill="#111" >Semi-Quantitative Densitometry Analysis</text><line x1="338.00" y1="190.00" x2="677.60" y2="190.00" stroke="#aaaaaa" stroke-width="1.6"/><rect x="378.70" y="107.65" width="10.10" height="22.45" fill="#476cc6" stroke="#111" stroke-width="0.7" /><rect x="388.80" y="105.41" width="10.10" height="24.70" fill="#5ca2da" stroke="#111" stroke-width="0.7" /><rect x="409.50" y="107.65" width="10.10" height="22.45" fill="#476cc6" stroke="#111" stroke-width="0.7" /><rect x="419.60" y="112.14" width="10.10" height="17.96" fill="#5ca2da" stroke="#111" stroke-width="0.7" /><rect x="440.30" y="107.65" width="10.10" height="22.45" fill="#476cc6" stroke="#111" stroke-width="0.7" /><rect x="450.40" y="104.28" width="10.10" height="25.82" fill="#5ca2da" stroke="#111" stroke-width="0.7" /><rect x="471.10" y="107.65" width="10.10" height="22.45" fill="#476cc6" stroke="#111" stroke-width="0.7" /><rect x="481.20" y="76.22" width="10.10" height="53.88" fill="#5ca2da" stroke="#111" stroke-width="0.7" /><line x1="393.85" y1="105.41" x2="393.85" y2="101.59" stroke="#111" stroke-width="0.7"/><line x1="391.85" y1="101.59" x2="395.85" y2="101.59" stroke="#111" stroke-width="0.7"/><circle cx="380.45" cy="107.65" r="1.75" fill="#fff" stroke="#0a0a0a" stroke-width="0.75"/><circle cx="383.75" cy="107.65" r="1.75" fill="#fff" stroke="#0a0a0a" stroke-width="0.75"/><circle cx="387.05" cy="107.65" r="1.75" fill="#fff" stroke="#0a0a0a" stroke-width="0.75"/><circle cx="393.85" cy="98.00" r="1.75" fill="#fff" stroke="#0a0a0a" stroke-width="0.75"/><circle cx="390.25" cy="109.00" r="1.75" fill="#fff" stroke="#0a0a0a" stroke-width="0.75"/><circle cx="397.25" cy="109.00" r="1.75" fill="#fff" stroke="#0a0a0a" stroke-width="0.75"/><line x1="424.65" y1="112.14" x2="424.65" y2="109.22" stroke="#111" stroke-width="0.7"/><line x1="422.65" y1="109.22" x2="426.65" y2="109.22" stroke="#111" stroke-width="0.7"/><circle cx="411.25" cy="107.65" r="1.75" fill="#fff" stroke="#0a0a0a" stroke-width="0.75"/><circle cx="414.55" cy="107.65" r="1.75" fill="#fff" stroke="#0a0a0a" stroke-width="0.75"/><circle cx="417.85" cy="107.65" r="1.75" fill="#fff" stroke="#0a0a0a" stroke-width="0.75"/><circle cx="424.65" cy="106.98" r="1.75" fill="#fff" stroke="#0a0a0a" stroke-width="0.75"/><circle cx="424.65" cy="111.69" r="1.75" fill="#fff" stroke="#0a0a0a" stroke-width="0.75"/><circle cx="424.65" cy="116.18" r="1.75" fill="#fff" stroke="#0a0a0a" stroke-width="0.75"/><line x1="455.45" y1="104.28" x2="455.45" y2="101.81" stroke="#111" stroke-width="0.7"/><line x1="453.45" y1="101.81" x2="457.45" y2="101.81" stroke="#111" stroke-width="0.7"/><circle cx="442.05" cy="107.65" r="1.75" fill="#fff" stroke="#0a0a0a" stroke-width="0.75"/><circle cx="445.35" cy="107.65" r="1.75" fill="#fff" stroke="#0a0a0a" stroke-width="0.75"/><circle cx="448.65" cy="107.65" r="1.75" fill="#fff" stroke="#0a0a0a" stroke-width="0.75"/><circle cx="455.45" cy="98.67" r="1.75" fill="#fff" stroke="#0a0a0a" stroke-width="0.75"/><circle cx="455.45" cy="101.36" r="1.75" fill="#fff" stroke="#0a0a0a" stroke-width="0.75"/><circle cx="455.45" cy="107.43" r="1.75" fill="#fff" stroke="#0a0a0a" stroke-width="0.75"/><line x1="486.25" y1="76.22" x2="486.25" y2="69.93" stroke="#111" stroke-width="0.7"/><line x1="484.25" y1="69.93" x2="488.25" y2="69.93" stroke="#111" stroke-width="0.7"/><circle cx="472.85" cy="107.65" r="1.75" fill="#fff" stroke="#0a0a0a" stroke-width="0.75"/><circle cx="476.15" cy="107.65" r="1.75" fill="#fff" stroke="#0a0a0a" stroke-width="0.75"/><circle cx="479.45" cy="107.65" r="1.75" fill="#fff" stroke="#0a0a0a" stroke-width="0.75"/><circle cx="486.25" cy="62.97" r="1.75" fill="#fff" stroke="#0a0a0a" stroke-width="0.75"/><circle cx="486.25" cy="80.49" r="1.75" fill="#fff" stroke="#0a0a0a" stroke-width="0.75"/><circle cx="486.25" cy="85.42" r="1.75" fill="#fff" stroke="#0a0a0a" stroke-width="0.75"/><text transform="translate(385.85,127.30) rotate(-90)" font-size="5.9" fill="#fff">1.00</text><text transform="translate(395.95,127.30) rotate(-90)" font-size="5.9" fill="#111">1.10</text><text transform="translate(416.65,127.30) rotate(-90)" font-size="5.9" fill="#fff">1.00</text><text transform="translate(426.75,127.30) rotate(-90)" font-size="5.9" fill="#111">0.80</text><text transform="translate(447.45,127.30) rotate(-90)" font-size="5.9" fill="#fff">1.00</text><text transform="translate(457.55,127.30) rotate(-90)" font-size="5.9" fill="#111">1.17</text><text transform="translate(478.25,127.30) rotate(-90)" font-size="5.9" fill="#fff">1.00</text><text transform="translate(488.35,127.30) rotate(-90)" font-size="5.9" fill="#111">2.40</text><line x1="373.50" y1="40.30" x2="373.50" y2="130.60" stroke="#111" stroke-width="1.0"/><line x1="367.10" y1="130.50" x2="496.80" y2="130.50" stroke="#111" stroke-width="1.0"/><line x1="367.10" y1="130.50" x2="373.40" y2="130.50" stroke="#111" stroke-width="1.0"/><text x="364.80" y="132.40" font-size="7.3" text-anchor="end" fill="#111" >0</text><line x1="367.10" y1="107.50" x2="373.40" y2="107.50" stroke="#111" stroke-width="1.0"/><text x="364.80" y="109.95" font-size="7.3" text-anchor="end" fill="#111" >1</text><line x1="367.10" y1="85.50" x2="373.40" y2="85.50" stroke="#111" stroke-width="1.0"/><text x="364.80" y="87.50" font-size="7.3" text-anchor="end" fill="#111" >2</text><line x1="367.10" y1="62.50" x2="373.40" y2="62.50" stroke="#111" stroke-width="1.0"/><text x="364.80" y="65.05" font-size="7.3" text-anchor="end" fill="#111" >3</text><line x1="367.10" y1="40.50" x2="373.40" y2="40.50" stroke="#111" stroke-width="1.0"/><text x="364.80" y="42.60" font-size="7.3" text-anchor="end" fill="#111" >4</text><line x1="388.50" y1="130.10" x2="388.50" y2="132.70" stroke="#111" stroke-width="0.9"/><text x="388.80" y="141.50" font-size="7.5" text-anchor="middle" fill="#111" >D1</text><line x1="419.50" y1="130.10" x2="419.50" y2="132.70" stroke="#111" stroke-width="0.9"/><text x="419.60" y="141.50" font-size="7.5" text-anchor="middle" fill="#111" >D3</text><line x1="450.50" y1="130.10" x2="450.50" y2="132.70" stroke="#111" stroke-width="0.9"/><text x="450.40" y="141.50" font-size="7.5" text-anchor="middle" fill="#111" >D5</text><line x1="481.50" y1="130.10" x2="481.50" y2="132.70" stroke="#111" stroke-width="0.9"/><text x="481.20" y="141.50" font-size="7.5" text-anchor="middle" fill="#111" >D7</text><text x="435.50" y="151.70" font-size="8.1" text-anchor="middle" fill="#111" textLength="91" lengthAdjust="spacingAndGlyphs">Treatment Timepoint (n = 3)</text><text x="388.80" y="88.00" font-size="5.15" text-anchor="middle" fill="#111"  style="stroke-width:0.06px">P = 0.5813</text><line x1="383.30" y1="93.50" x2="394.30" y2="93.50" stroke="#111" stroke-width="0.9"/><text x="419.60" y="91.90" font-size="5.15" text-anchor="middle" fill="#111"  style="stroke-width:0.06px">P = 0.1590</text><line x1="414.10" y1="97.50" x2="425.10" y2="97.50" stroke="#111" stroke-width="0.9"/><text x="450.40" y="85.50" font-size="5.15" text-anchor="middle" fill="#111"  style="stroke-width:0.06px">P = 0.1861</text><line x1="444.90" y1="91.50" x2="455.90" y2="91.50" stroke="#111" stroke-width="0.9"/><text x="481.20" y="52.70" font-size="5.15" text-anchor="middle" fill="#111"  style="stroke-width:0.06px">P = 0.0094</text><line x1="475.70" y1="58.50" x2="486.70" y2="58.50" stroke="#111" stroke-width="0.9"/><text x="434.80" y="32.60" font-size="7.4" font-weight="bold" text-anchor="middle" fill="#111" >GLUT1</text><rect x="376.60" y="40.80" width="3.80" height="3.80" fill="#476cc6" stroke="#111" stroke-width="0.5" /><rect x="376.60" y="51.00" width="3.80" height="3.80" fill="#5ca2da" stroke="#111" stroke-width="0.5" /><text x="387.20" y="45.20" font-size="7.8" text-anchor="start" fill="#111" textLength="49.91" lengthAdjust="spacingAndGlyphs">Vehicle Control</text><text x="387.20" y="55.40" font-size="7.8" text-anchor="start" fill="#111" textLength="52.09" lengthAdjust="spacingAndGlyphs">TMZRT Treated</text><text transform="translate(344.80,88.80) rotate(-90)" font-size="7.33" text-anchor="middle" fill="#111">Fold-Change Protein Levels</text><text transform="translate(353.10,88.80) rotate(-90)" font-size="7.15" text-anchor="middle" fill="#111">Normalized to Ponceau S</text><rect x="559.70" y="101.25" width="10.00" height="29.95" fill="#476cc6" stroke="#111" stroke-width="0.7" /><rect x="569.70" y="85.98" width="10.00" height="45.22" fill="#5ca2da" stroke="#111" stroke-width="0.7" /><rect x="590.20" y="101.25" width="10.00" height="29.95" fill="#476cc6" stroke="#111" stroke-width="0.7" /><rect x="600.20" y="86.57" width="10.00" height="44.63" fill="#5ca2da" stroke="#111" stroke-width="0.7" /><rect x="620.70" y="101.25" width="10.00" height="29.95" fill="#476cc6" stroke="#111" stroke-width="0.7" /><rect x="630.70" y="81.48" width="10.00" height="49.72" fill="#5ca2da" stroke="#111" stroke-width="0.7" /><rect x="651.20" y="101.25" width="10.00" height="29.95" fill="#476cc6" stroke="#111" stroke-width="0.7" /><rect x="661.20" y="80.88" width="10.00" height="50.32" fill="#5ca2da" stroke="#111" stroke-width="0.7" /><line x1="574.70" y1="85.98" x2="574.70" y2="82.68" stroke="#111" stroke-width="0.7"/><line x1="572.70" y1="82.68" x2="576.70" y2="82.68" stroke="#111" stroke-width="0.7"/><circle cx="561.40" cy="101.25" r="1.75" fill="#fff" stroke="#0a0a0a" stroke-width="0.75"/><circle cx="564.70" cy="101.25" r="1.75" fill="#fff" stroke="#0a0a0a" stroke-width="0.75"/><circle cx="568.00" cy="101.25" r="1.75" fill="#fff" stroke="#0a0a0a" stroke-width="0.75"/><circle cx="574.70" cy="79.09" r="1.75" fill="#fff" stroke="#0a0a0a" stroke-width="0.75"/><circle cx="571.40" cy="88.67" r="1.75" fill="#fff" stroke="#0a0a0a" stroke-width="0.75"/><circle cx="578.00" cy="88.67" r="1.75" fill="#fff" stroke="#0a0a0a" stroke-width="0.75"/><line x1="605.20" y1="86.57" x2="605.20" y2="83.88" stroke="#111" stroke-width="0.7"/><line x1="603.20" y1="83.88" x2="607.20" y2="83.88" stroke="#111" stroke-width="0.7"/><circle cx="591.90" cy="101.25" r="1.75" fill="#fff" stroke="#0a0a0a" stroke-width="0.75"/><circle cx="595.20" cy="101.25" r="1.75" fill="#fff" stroke="#0a0a0a" stroke-width="0.75"/><circle cx="598.50" cy="101.25" r="1.75" fill="#fff" stroke="#0a0a0a" stroke-width="0.75"/><circle cx="605.20" cy="81.48" r="1.75" fill="#fff" stroke="#0a0a0a" stroke-width="0.75"/><circle cx="601.90" cy="88.67" r="1.75" fill="#fff" stroke="#0a0a0a" stroke-width="0.75"/><circle cx="608.50" cy="88.67" r="1.75" fill="#fff" stroke="#0a0a0a" stroke-width="0.75"/><line x1="635.70" y1="81.48" x2="635.70" y2="77.89" stroke="#111" stroke-width="0.7"/><line x1="633.70" y1="77.89" x2="637.70" y2="77.89" stroke="#111" stroke-width="0.7"/><circle cx="622.40" cy="101.25" r="1.75" fill="#fff" stroke="#0a0a0a" stroke-width="0.75"/><circle cx="625.70" cy="101.25" r="1.75" fill="#fff" stroke="#0a0a0a" stroke-width="0.75"/><circle cx="629.00" cy="101.25" r="1.75" fill="#fff" stroke="#0a0a0a" stroke-width="0.75"/><circle cx="635.70" cy="75.79" r="1.75" fill="#fff" stroke="#0a0a0a" stroke-width="0.75"/><circle cx="635.70" cy="79.99" r="1.75" fill="#fff" stroke="#0a0a0a" stroke-width="0.75"/><circle cx="635.70" cy="88.67" r="1.75" fill="#fff" stroke="#0a0a0a" stroke-width="0.75"/><line x1="666.20" y1="80.88" x2="666.20" y2="77.59" stroke="#111" stroke-width="0.7"/><line x1="664.20" y1="77.59" x2="668.20" y2="77.59" stroke="#111" stroke-width="0.7"/><circle cx="652.90" cy="101.25" r="1.75" fill="#fff" stroke="#0a0a0a" stroke-width="0.75"/><circle cx="656.20" cy="101.25" r="1.75" fill="#fff" stroke="#0a0a0a" stroke-width="0.75"/><circle cx="659.50" cy="101.25" r="1.75" fill="#fff" stroke="#0a0a0a" stroke-width="0.75"/><circle cx="662.60" cy="77.29" r="1.75" fill="#fff" stroke="#0a0a0a" stroke-width="0.75"/><circle cx="669.80" cy="77.29" r="1.75" fill="#fff" stroke="#0a0a0a" stroke-width="0.75"/><circle cx="666.20" cy="87.47" r="1.75" fill="#fff" stroke="#0a0a0a" stroke-width="0.75"/><text transform="translate(566.80,128.40) rotate(-90)" font-size="5.9" fill="#fff">1.00</text><text transform="translate(576.80,128.40) rotate(-90)" font-size="5.9" fill="#111">1.51</text><text transform="translate(597.30,128.40) rotate(-90)" font-size="5.9" fill="#fff">1.00</text><text transform="translate(607.30,128.40) rotate(-90)" font-size="5.9" fill="#111">1.49</text><text transform="translate(627.80,128.40) rotate(-90)" font-size="5.9" fill="#fff">1.00</text><text transform="translate(637.80,128.40) rotate(-90)" font-size="5.9" fill="#111">1.66</text><text transform="translate(658.30,128.40) rotate(-90)" font-size="5.9" fill="#fff">1.00</text><text transform="translate(668.30,128.40) rotate(-90)" font-size="5.9" fill="#111">1.68</text><line x1="553.50" y1="41.35" x2="553.50" y2="131.70" stroke="#111" stroke-width="1.0"/><line x1="547.10" y1="131.50" x2="676.80" y2="131.50" stroke="#111" stroke-width="1.0"/><line x1="547.10" y1="131.50" x2="553.40" y2="131.50" stroke="#111" stroke-width="1.0"/><text x="544.80" y="133.50" font-size="7.3" text-anchor="end" fill="#111" >0</text><line x1="547.10" y1="101.50" x2="553.40" y2="101.50" stroke="#111" stroke-width="1.0"/><text x="544.80" y="103.55" font-size="7.3" text-anchor="end" fill="#111" >1</text><line x1="547.10" y1="71.50" x2="553.40" y2="71.50" stroke="#111" stroke-width="1.0"/><text x="544.80" y="73.60" font-size="7.3" text-anchor="end" fill="#111" >2</text><line x1="547.10" y1="41.50" x2="553.40" y2="41.50" stroke="#111" stroke-width="1.0"/><text x="544.80" y="43.65" font-size="7.3" text-anchor="end" fill="#111" >3</text><line x1="569.50" y1="131.20" x2="569.50" y2="133.80" stroke="#111" stroke-width="0.9"/><text x="569.70" y="142.60" font-size="7.5" text-anchor="middle" fill="#111" >D1</text><line x1="600.50" y1="131.20" x2="600.50" y2="133.80" stroke="#111" stroke-width="0.9"/><text x="600.20" y="142.60" font-size="7.5" text-anchor="middle" fill="#111" >D3</text><line x1="630.50" y1="131.20" x2="630.50" y2="133.80" stroke="#111" stroke-width="0.9"/><text x="630.70" y="142.60" font-size="7.5" text-anchor="middle" fill="#111" >D5</text><line x1="661.50" y1="131.20" x2="661.50" y2="133.80" stroke="#111" stroke-width="0.9"/><text x="661.20" y="142.60" font-size="7.5" text-anchor="middle" fill="#111" >D7</text><text x="615.40" y="152.80" font-size="8.1" text-anchor="middle" fill="#111" textLength="91" lengthAdjust="spacingAndGlyphs">Treatment Timepoint (n = 3)</text><text x="569.70" y="69.90" font-size="5.15" text-anchor="middle" fill="#111"  style="stroke-width:0.06px">P = 0.0063</text><line x1="564.20" y1="76.50" x2="575.20" y2="76.50" stroke="#111" stroke-width="0.9"/><text x="600.20" y="69.90" font-size="5.15" text-anchor="middle" fill="#111"  style="stroke-width:0.06px">P = 0.0045</text><line x1="594.70" y1="76.50" x2="605.70" y2="76.50" stroke="#111" stroke-width="0.9"/><text x="630.70" y="66.10" font-size="5.15" text-anchor="middle" fill="#111"  style="stroke-width:0.06px">P = 0.0064</text><line x1="625.20" y1="72.50" x2="636.20" y2="72.50" stroke="#111" stroke-width="0.9"/><text x="661.20" y="53.50" font-size="5.15" text-anchor="middle" fill="#111"  style="stroke-width:0.06px">P = 0.0038</text><line x1="655.70" y1="59.50" x2="666.70" y2="59.50" stroke="#111" stroke-width="0.9"/><text x="615.80" y="32.60" font-size="7.4" font-weight="bold" text-anchor="middle" fill="#111" >HK1</text><rect x="556.80" y="43.00" width="3.80" height="3.80" fill="#476cc6" stroke="#111" stroke-width="0.5" /><rect x="556.80" y="52.90" width="3.80" height="3.80" fill="#5ca2da" stroke="#111" stroke-width="0.5" /><text x="567.40" y="47.40" font-size="7.8" text-anchor="start" fill="#111" textLength="49.91" lengthAdjust="spacingAndGlyphs">Vehicle Control</text><text x="567.40" y="57.30" font-size="7.8" text-anchor="start" fill="#111" textLength="52.09" lengthAdjust="spacingAndGlyphs">TMZRT Treated</text><text transform="translate(524.80,89.87) rotate(-90)" font-size="7.33" text-anchor="middle" fill="#111">Fold-Change Protein Levels</text><text transform="translate(533.10,89.87) rotate(-90)" font-size="7.15" text-anchor="middle" fill="#111">Normalized to Ponceau S</text><rect x="385.70" y="251.40" width="9.95" height="45.00" fill="#476cc6" stroke="#111" stroke-width="0.7" /><rect x="395.65" y="251.85" width="9.95" height="44.55" fill="#5ca2da" stroke="#111" stroke-width="0.7" /><rect x="416.50" y="251.40" width="9.95" height="45.00" fill="#476cc6" stroke="#111" stroke-width="0.7" /><rect x="426.45" y="249.15" width="9.95" height="47.25" fill="#5ca2da" stroke="#111" stroke-width="0.7" /><rect x="447.40" y="251.40" width="9.95" height="45.00" fill="#476cc6" stroke="#111" stroke-width="0.7" /><rect x="457.35" y="252.30" width="9.95" height="44.10" fill="#5ca2da" stroke="#111" stroke-width="0.7" /><rect x="478.20" y="251.40" width="9.95" height="45.00" fill="#476cc6" stroke="#111" stroke-width="0.7" /><rect x="488.15" y="283.35" width="9.95" height="13.05" fill="#5ca2da" stroke="#111" stroke-width="0.7" /><line x1="400.62" y1="251.85" x2="400.62" y2="247.35" stroke="#111" stroke-width="0.7"/><line x1="398.62" y1="247.35" x2="402.62" y2="247.35" stroke="#111" stroke-width="0.7"/><circle cx="387.38" cy="251.40" r="1.75" fill="#fff" stroke="#0a0a0a" stroke-width="0.75"/><circle cx="390.68" cy="251.40" r="1.75" fill="#fff" stroke="#0a0a0a" stroke-width="0.75"/><circle cx="393.98" cy="251.40" r="1.75" fill="#fff" stroke="#0a0a0a" stroke-width="0.75"/><circle cx="400.62" cy="243.30" r="1.75" fill="#fff" stroke="#0a0a0a" stroke-width="0.75"/><circle cx="397.02" cy="256.35" r="1.75" fill="#fff" stroke="#0a0a0a" stroke-width="0.75"/><circle cx="404.02" cy="256.35" r="1.75" fill="#fff" stroke="#0a0a0a" stroke-width="0.75"/><line x1="431.43" y1="249.15" x2="431.43" y2="246.90" stroke="#111" stroke-width="0.7"/><line x1="429.43" y1="246.90" x2="433.43" y2="246.90" stroke="#111" stroke-width="0.7"/><circle cx="418.18" cy="251.40" r="1.75" fill="#fff" stroke="#0a0a0a" stroke-width="0.75"/><circle cx="421.48" cy="251.40" r="1.75" fill="#fff" stroke="#0a0a0a" stroke-width="0.75"/><circle cx="424.78" cy="251.40" r="1.75" fill="#fff" stroke="#0a0a0a" stroke-width="0.75"/><circle cx="431.43" cy="245.10" r="1.75" fill="#fff" stroke="#0a0a0a" stroke-width="0.75"/><circle cx="428.12" cy="252.30" r="1.75" fill="#fff" stroke="#0a0a0a" stroke-width="0.75"/><circle cx="434.73" cy="252.30" r="1.75" fill="#fff" stroke="#0a0a0a" stroke-width="0.75"/><line x1="462.32" y1="252.30" x2="462.32" y2="248.25" stroke="#111" stroke-width="0.7"/><line x1="460.32" y1="248.25" x2="464.32" y2="248.25" stroke="#111" stroke-width="0.7"/><circle cx="449.07" cy="251.40" r="1.75" fill="#fff" stroke="#0a0a0a" stroke-width="0.75"/><circle cx="452.38" cy="251.40" r="1.75" fill="#fff" stroke="#0a0a0a" stroke-width="0.75"/><circle cx="455.68" cy="251.40" r="1.75" fill="#fff" stroke="#0a0a0a" stroke-width="0.75"/><circle cx="462.32" cy="246.00" r="1.75" fill="#fff" stroke="#0a0a0a" stroke-width="0.75"/><circle cx="458.72" cy="256.35" r="1.75" fill="#fff" stroke="#0a0a0a" stroke-width="0.75"/><circle cx="465.72" cy="255.00" r="1.75" fill="#fff" stroke="#0a0a0a" stroke-width="0.75"/><line x1="493.12" y1="283.35" x2="493.12" y2="280.20" stroke="#111" stroke-width="0.7"/><line x1="491.12" y1="280.20" x2="495.12" y2="280.20" stroke="#111" stroke-width="0.7"/><circle cx="479.88" cy="251.40" r="1.75" fill="#fff" stroke="#0a0a0a" stroke-width="0.75"/><circle cx="483.18" cy="251.40" r="1.75" fill="#fff" stroke="#0a0a0a" stroke-width="0.75"/><circle cx="486.48" cy="251.40" r="1.75" fill="#fff" stroke="#0a0a0a" stroke-width="0.75"/><circle cx="493.12" cy="274.80" r="1.75" fill="#fff" stroke="#0a0a0a" stroke-width="0.75"/><circle cx="493.12" cy="286.05" r="1.75" fill="#fff" stroke="#0a0a0a" stroke-width="0.75"/><circle cx="493.12" cy="290.55" r="1.75" fill="#fff" stroke="#0a0a0a" stroke-width="0.75"/><text transform="translate(392.78,293.60) rotate(-90)" font-size="5.9" fill="#fff">1.00</text><text transform="translate(402.73,293.60) rotate(-90)" font-size="5.9" fill="#111">0.99</text><text transform="translate(423.58,293.60) rotate(-90)" font-size="5.9" fill="#fff">1.00</text><text transform="translate(433.53,293.60) rotate(-90)" font-size="5.9" fill="#111">1.05</text><text transform="translate(454.48,293.60) rotate(-90)" font-size="5.9" fill="#fff">1.00</text><text transform="translate(464.43,293.60) rotate(-90)" font-size="5.9" fill="#111">0.98</text><text transform="translate(485.28,293.60) rotate(-90)" font-size="5.9" fill="#fff">1.00</text><text transform="translate(494.82,268.40) rotate(-90)" font-size="5.9" fill="#111">0.29</text><line x1="380.50" y1="206.40" x2="380.50" y2="296.90" stroke="#111" stroke-width="1.0"/><line x1="373.70" y1="296.50" x2="499.30" y2="296.50" stroke="#111" stroke-width="1.0"/><line x1="373.70" y1="296.50" x2="380.00" y2="296.50" stroke="#111" stroke-width="1.0"/><text x="371.40" y="298.70" font-size="7.3" text-anchor="end" fill="#111" >0.0</text><line x1="373.70" y1="273.50" x2="380.00" y2="273.50" stroke="#111" stroke-width="1.0"/><text x="371.40" y="276.20" font-size="7.3" text-anchor="end" fill="#111" >0.5</text><line x1="373.70" y1="251.50" x2="380.00" y2="251.50" stroke="#111" stroke-width="1.0"/><text x="371.40" y="253.70" font-size="7.3" text-anchor="end" fill="#111" >1.0</text><line x1="373.70" y1="228.50" x2="380.00" y2="228.50" stroke="#111" stroke-width="1.0"/><text x="371.40" y="231.20" font-size="7.3" text-anchor="end" fill="#111" >1.5</text><line x1="373.70" y1="206.50" x2="380.00" y2="206.50" stroke="#111" stroke-width="1.0"/><text x="371.40" y="208.70" font-size="7.3" text-anchor="end" fill="#111" >2.0</text><line x1="395.50" y1="296.40" x2="395.50" y2="299.00" stroke="#111" stroke-width="0.9"/><text x="395.65" y="307.80" font-size="7.5" text-anchor="middle" fill="#111" >D1</text><line x1="426.50" y1="296.40" x2="426.50" y2="299.00" stroke="#111" stroke-width="0.9"/><text x="426.45" y="307.80" font-size="7.5" text-anchor="middle" fill="#111" >D3</text><line x1="457.50" y1="296.40" x2="457.50" y2="299.00" stroke="#111" stroke-width="0.9"/><text x="457.35" y="307.80" font-size="7.5" text-anchor="middle" fill="#111" >D5</text><line x1="488.50" y1="296.40" x2="488.50" y2="299.00" stroke="#111" stroke-width="0.9"/><text x="488.15" y="307.80" font-size="7.5" text-anchor="middle" fill="#111" >D7</text><text x="441.50" y="318.00" font-size="8.1" text-anchor="middle" fill="#111" textLength="91" lengthAdjust="spacingAndGlyphs">Treatment Timepoint (n = 3)</text><text x="395.65" y="236.60" font-size="5.15" text-anchor="middle" fill="#111"  style="stroke-width:0.06px">P = 0.9557</text><line x1="390.15" y1="239.50" x2="401.15" y2="239.50" stroke="#111" stroke-width="0.9"/><text x="426.45" y="236.60" font-size="5.15" text-anchor="middle" fill="#111"  style="stroke-width:0.06px">P = 0.8343</text><line x1="420.95" y1="239.50" x2="431.95" y2="239.50" stroke="#111" stroke-width="0.9"/><text x="457.35" y="235.30" font-size="5.15" text-anchor="middle" fill="#111"  style="stroke-width:0.06px">P = 0.9557</text><line x1="451.85" y1="237.50" x2="462.85" y2="237.50" stroke="#111" stroke-width="0.9"/><text x="488.15" y="242.10" font-size="5.15" text-anchor="middle" fill="#111"  style="stroke-width:0.06px">P = 0.0115</text><line x1="482.65" y1="245.50" x2="493.65" y2="245.50" stroke="#111" stroke-width="0.9"/><text x="442.40" y="200.30" font-size="7.4" font-weight="bold" text-anchor="middle" fill="#111" >ALDOA</text><rect x="381.20" y="208.40" width="3.80" height="3.80" fill="#476cc6" stroke="#111" stroke-width="0.5" /><rect x="381.20" y="218.10" width="3.80" height="3.80" fill="#5ca2da" stroke="#111" stroke-width="0.5" /><text x="391.80" y="212.80" font-size="7.8" text-anchor="start" fill="#111" textLength="49.91" lengthAdjust="spacingAndGlyphs">Vehicle Control</text><text x="391.80" y="222.50" font-size="7.8" text-anchor="start" fill="#111" textLength="52.09" lengthAdjust="spacingAndGlyphs">TMZRT Treated</text><text transform="translate(344.50,255.40) rotate(-90)" font-size="7.33" text-anchor="middle" fill="#111">Fold-Change Protein Levels</text><text transform="translate(353.90,255.40) rotate(-90)" font-size="7.15" text-anchor="middle" fill="#111">Normalized to Ponceau S</text><rect x="565.40" y="252.05" width="10.10" height="44.95" fill="#476cc6" stroke="#111" stroke-width="0.7" /><rect x="575.50" y="255.65" width="10.10" height="41.35" fill="#5ca2da" stroke="#111" stroke-width="0.7" /><rect x="596.30" y="252.05" width="10.10" height="44.95" fill="#476cc6" stroke="#111" stroke-width="0.7" /><rect x="606.40" y="249.35" width="10.10" height="47.65" fill="#5ca2da" stroke="#111" stroke-width="0.7" /><rect x="627.30" y="252.05" width="10.10" height="44.95" fill="#476cc6" stroke="#111" stroke-width="0.7" /><rect x="637.40" y="258.34" width="10.10" height="38.66" fill="#5ca2da" stroke="#111" stroke-width="0.7" /><rect x="658.70" y="252.05" width="10.10" height="44.95" fill="#476cc6" stroke="#111" stroke-width="0.7" /><rect x="668.80" y="292.95" width="10.10" height="4.05" fill="#5ca2da" stroke="#111" stroke-width="0.7" /><line x1="580.55" y1="255.65" x2="580.55" y2="252.95" stroke="#111" stroke-width="0.7"/><line x1="578.55" y1="252.95" x2="582.55" y2="252.95" stroke="#111" stroke-width="0.7"/><circle cx="567.15" cy="252.05" r="1.75" fill="#fff" stroke="#0a0a0a" stroke-width="0.75"/><circle cx="570.45" cy="252.05" r="1.75" fill="#fff" stroke="#0a0a0a" stroke-width="0.75"/><circle cx="573.75" cy="252.05" r="1.75" fill="#fff" stroke="#0a0a0a" stroke-width="0.75"/><circle cx="576.95" cy="252.95" r="1.75" fill="#fff" stroke="#0a0a0a" stroke-width="0.75"/><circle cx="583.95" cy="252.95" r="1.75" fill="#fff" stroke="#0a0a0a" stroke-width="0.75"/><circle cx="580.55" cy="261.04" r="1.75" fill="#fff" stroke="#0a0a0a" stroke-width="0.75"/><line x1="611.45" y1="249.35" x2="611.45" y2="245.76" stroke="#111" stroke-width="0.7"/><line x1="609.45" y1="245.76" x2="613.45" y2="245.76" stroke="#111" stroke-width="0.7"/><circle cx="598.05" cy="252.05" r="1.75" fill="#fff" stroke="#0a0a0a" stroke-width="0.75"/><circle cx="601.35" cy="252.05" r="1.75" fill="#fff" stroke="#0a0a0a" stroke-width="0.75"/><circle cx="604.65" cy="252.05" r="1.75" fill="#fff" stroke="#0a0a0a" stroke-width="0.75"/><circle cx="611.45" cy="243.96" r="1.75" fill="#fff" stroke="#0a0a0a" stroke-width="0.75"/><circle cx="611.45" cy="248.00" r="1.75" fill="#fff" stroke="#0a0a0a" stroke-width="0.75"/><circle cx="611.45" cy="252.50" r="1.75" fill="#fff" stroke="#0a0a0a" stroke-width="0.75"/><line x1="642.45" y1="258.34" x2="642.45" y2="257.44" stroke="#111" stroke-width="0.7"/><line x1="640.45" y1="257.44" x2="644.45" y2="257.44" stroke="#111" stroke-width="0.7"/><circle cx="629.05" cy="252.05" r="1.75" fill="#fff" stroke="#0a0a0a" stroke-width="0.75"/><circle cx="632.35" cy="252.05" r="1.75" fill="#fff" stroke="#0a0a0a" stroke-width="0.75"/><circle cx="635.65" cy="252.05" r="1.75" fill="#fff" stroke="#0a0a0a" stroke-width="0.75"/><circle cx="641.95" cy="257.44" r="1.75" fill="#fff" stroke="#0a0a0a" stroke-width="0.75"/><circle cx="645.45" cy="257.44" r="1.75" fill="#fff" stroke="#0a0a0a" stroke-width="0.75"/><circle cx="638.85" cy="259.24" r="1.75" fill="#fff" stroke="#0a0a0a" stroke-width="0.75"/><line x1="673.85" y1="292.95" x2="673.85" y2="291.16" stroke="#111" stroke-width="0.7"/><line x1="671.85" y1="291.16" x2="675.85" y2="291.16" stroke="#111" stroke-width="0.7"/><circle cx="660.45" cy="252.05" r="1.75" fill="#fff" stroke="#0a0a0a" stroke-width="0.75"/><circle cx="663.75" cy="252.05" r="1.75" fill="#fff" stroke="#0a0a0a" stroke-width="0.75"/><circle cx="667.05" cy="252.05" r="1.75" fill="#fff" stroke="#0a0a0a" stroke-width="0.75"/><circle cx="673.85" cy="288.91" r="1.75" fill="#fff" stroke="#0a0a0a" stroke-width="0.75"/><circle cx="677.65" cy="292.95" r="1.75" fill="#fff" stroke="#0a0a0a" stroke-width="0.75"/><circle cx="670.25" cy="294.75" r="1.75" fill="#fff" stroke="#0a0a0a" stroke-width="0.75"/><text transform="translate(572.55,294.20) rotate(-90)" font-size="5.9" fill="#fff">1.00</text><text transform="translate(582.65,294.20) rotate(-90)" font-size="5.9" fill="#111">0.92</text><text transform="translate(603.45,294.20) rotate(-90)" font-size="5.9" fill="#fff">1.00</text><text transform="translate(613.55,294.20) rotate(-90)" font-size="5.9" fill="#111">1.08</text><text transform="translate(634.45,294.20) rotate(-90)" font-size="5.9" fill="#fff">1.00</text><text transform="translate(644.55,294.20) rotate(-90)" font-size="5.9" fill="#111">0.87</text><text transform="translate(665.85,294.20) rotate(-90)" font-size="5.9" fill="#fff">1.00</text><text transform="translate(675.55,284.70) rotate(-90)" font-size="5.9" fill="#111">0.11</text><line x1="560.50" y1="207.10" x2="560.50" y2="297.50" stroke="#111" stroke-width="1.0"/><line x1="554.30" y1="297.50" x2="680.50" y2="297.50" stroke="#111" stroke-width="1.0"/><line x1="554.30" y1="297.50" x2="560.60" y2="297.50" stroke="#111" stroke-width="1.0"/><text x="552.00" y="299.30" font-size="7.3" text-anchor="end" fill="#111" >0.0</text><line x1="554.30" y1="274.50" x2="560.60" y2="274.50" stroke="#111" stroke-width="1.0"/><text x="552.00" y="276.82" font-size="7.3" text-anchor="end" fill="#111" >0.5</text><line x1="554.30" y1="252.50" x2="560.60" y2="252.50" stroke="#111" stroke-width="1.0"/><text x="552.00" y="254.35" font-size="7.3" text-anchor="end" fill="#111" >1.0</text><line x1="554.30" y1="229.50" x2="560.60" y2="229.50" stroke="#111" stroke-width="1.0"/><text x="552.00" y="231.88" font-size="7.3" text-anchor="end" fill="#111" >1.5</text><line x1="554.30" y1="207.50" x2="560.60" y2="207.50" stroke="#111" stroke-width="1.0"/><text x="552.00" y="209.40" font-size="7.3" text-anchor="end" fill="#111" >2.0</text><line x1="575.50" y1="297.00" x2="575.50" y2="299.60" stroke="#111" stroke-width="0.9"/><text x="575.50" y="308.40" font-size="7.5" text-anchor="middle" fill="#111" >D1</text><line x1="606.50" y1="297.00" x2="606.50" y2="299.60" stroke="#111" stroke-width="0.9"/><text x="606.40" y="308.40" font-size="7.5" text-anchor="middle" fill="#111" >D3</text><line x1="637.50" y1="297.00" x2="637.50" y2="299.60" stroke="#111" stroke-width="0.9"/><text x="637.40" y="308.40" font-size="7.5" text-anchor="middle" fill="#111" >D5</text><line x1="668.50" y1="297.00" x2="668.50" y2="299.60" stroke="#111" stroke-width="0.9"/><text x="668.80" y="308.40" font-size="7.5" text-anchor="middle" fill="#111" >D7</text><text x="622.20" y="318.60" font-size="8.1" text-anchor="middle" fill="#111" textLength="91" lengthAdjust="spacingAndGlyphs">Treatment Timepoint (n = 3)</text><text x="575.50" y="238.60" font-size="5.15" text-anchor="middle" fill="#111"  style="stroke-width:0.06px">P = 0.2233</text><line x1="570.00" y1="244.50" x2="581.00" y2="244.50" stroke="#111" stroke-width="0.9"/><text x="606.40" y="235.50" font-size="5.15" text-anchor="middle" fill="#111"  style="stroke-width:0.06px">P = 0.2149</text><line x1="600.90" y1="241.50" x2="611.90" y2="241.50" stroke="#111" stroke-width="0.9"/><text x="637.40" y="237.30" font-size="5.15" text-anchor="middle" fill="#111"  style="stroke-width:0.06px">P = 0.0020</text><line x1="631.90" y1="243.50" x2="642.90" y2="243.50" stroke="#111" stroke-width="0.9"/><text x="668.80" y="237.30" font-size="5.15" text-anchor="middle" fill="#111"  style="stroke-width:0.06px">P &lt; 0.0001</text><line x1="663.30" y1="243.50" x2="674.30" y2="243.50" stroke="#111" stroke-width="0.9"/><text x="621.90" y="202.30" font-size="7.4" font-weight="bold" text-anchor="middle" fill="#111" >GAPDH</text><rect x="561.20" y="209.40" width="3.80" height="3.80" fill="#476cc6" stroke="#111" stroke-width="0.5" /><rect x="561.20" y="219.10" width="3.80" height="3.80" fill="#5ca2da" stroke="#111" stroke-width="0.5" /><text x="571.80" y="213.80" font-size="7.8" text-anchor="start" fill="#111" textLength="49.91" lengthAdjust="spacingAndGlyphs">Vehicle Control</text><text x="571.80" y="223.50" font-size="7.8" text-anchor="start" fill="#111" textLength="52.09" lengthAdjust="spacingAndGlyphs">TMZRT Treated</text><text transform="translate(525.10,256.05) rotate(-90)" font-size="7.33" text-anchor="middle" fill="#111">Fold-Change Protein Levels</text><text transform="translate(534.50,256.05) rotate(-90)" font-size="7.15" text-anchor="middle" fill="#111">Normalized to Ponceau S</text><rect x="385.10" y="384.30" width="10.10" height="44.70" fill="#476cc6" stroke="#111" stroke-width="0.7" /><rect x="395.20" y="388.32" width="10.10" height="40.68" fill="#5ca2da" stroke="#111" stroke-width="0.7" /><rect x="416.20" y="384.30" width="10.10" height="44.70" fill="#476cc6" stroke="#111" stroke-width="0.7" /><rect x="426.30" y="398.16" width="10.10" height="30.84" fill="#5ca2da" stroke="#111" stroke-width="0.7" /><rect x="447.30" y="384.30" width="10.10" height="44.70" fill="#476cc6" stroke="#111" stroke-width="0.7" /><rect x="457.40" y="398.16" width="10.10" height="30.84" fill="#5ca2da" stroke="#111" stroke-width="0.7" /><rect x="478.70" y="384.30" width="10.10" height="44.70" fill="#476cc6" stroke="#111" stroke-width="0.7" /><rect x="488.80" y="412.91" width="10.10" height="16.09" fill="#5ca2da" stroke="#111" stroke-width="0.7" /><line x1="400.25" y1="388.32" x2="400.25" y2="383.85" stroke="#111" stroke-width="0.7"/><line x1="398.25" y1="383.85" x2="402.25" y2="383.85" stroke="#111" stroke-width="0.7"/><circle cx="386.85" cy="384.30" r="1.75" fill="#fff" stroke="#0a0a0a" stroke-width="0.75"/><circle cx="390.15" cy="384.30" r="1.75" fill="#fff" stroke="#0a0a0a" stroke-width="0.75"/><circle cx="393.45" cy="384.30" r="1.75" fill="#fff" stroke="#0a0a0a" stroke-width="0.75"/><circle cx="400.25" cy="380.28" r="1.75" fill="#fff" stroke="#0a0a0a" stroke-width="0.75"/><circle cx="396.65" cy="390.56" r="1.75" fill="#fff" stroke="#0a0a0a" stroke-width="0.75"/><circle cx="403.65" cy="390.56" r="1.75" fill="#fff" stroke="#0a0a0a" stroke-width="0.75"/><line x1="431.35" y1="398.16" x2="431.35" y2="391.45" stroke="#111" stroke-width="0.7"/><line x1="429.35" y1="391.45" x2="433.35" y2="391.45" stroke="#111" stroke-width="0.7"/><circle cx="417.95" cy="384.30" r="1.75" fill="#fff" stroke="#0a0a0a" stroke-width="0.75"/><circle cx="421.25" cy="384.30" r="1.75" fill="#fff" stroke="#0a0a0a" stroke-width="0.75"/><circle cx="424.55" cy="384.30" r="1.75" fill="#fff" stroke="#0a0a0a" stroke-width="0.75"/><circle cx="431.35" cy="385.64" r="1.75" fill="#fff" stroke="#0a0a0a" stroke-width="0.75"/><circle cx="431.35" cy="398.60" r="1.75" fill="#fff" stroke="#0a0a0a" stroke-width="0.75"/><circle cx="431.35" cy="407.99" r="1.75" fill="#fff" stroke="#0a0a0a" stroke-width="0.75"/><line x1="462.45" y1="398.16" x2="462.45" y2="394.58" stroke="#111" stroke-width="0.7"/><line x1="460.45" y1="394.58" x2="464.45" y2="394.58" stroke="#111" stroke-width="0.7"/><circle cx="449.05" cy="384.30" r="1.75" fill="#fff" stroke="#0a0a0a" stroke-width="0.75"/><circle cx="452.35" cy="384.30" r="1.75" fill="#fff" stroke="#0a0a0a" stroke-width="0.75"/><circle cx="455.65" cy="384.30" r="1.75" fill="#fff" stroke="#0a0a0a" stroke-width="0.75"/><circle cx="459.45" cy="393.24" r="1.75" fill="#fff" stroke="#0a0a0a" stroke-width="0.75"/><circle cx="465.85" cy="394.58" r="1.75" fill="#fff" stroke="#0a0a0a" stroke-width="0.75"/><circle cx="462.45" cy="403.97" r="1.75" fill="#fff" stroke="#0a0a0a" stroke-width="0.75"/><line x1="493.85" y1="412.91" x2="493.85" y2="411.57" stroke="#111" stroke-width="0.7"/><line x1="491.85" y1="411.57" x2="495.85" y2="411.57" stroke="#111" stroke-width="0.7"/><circle cx="480.45" cy="384.30" r="1.75" fill="#fff" stroke="#0a0a0a" stroke-width="0.75"/><circle cx="483.75" cy="384.30" r="1.75" fill="#fff" stroke="#0a0a0a" stroke-width="0.75"/><circle cx="487.05" cy="384.30" r="1.75" fill="#fff" stroke="#0a0a0a" stroke-width="0.75"/><circle cx="493.85" cy="411.12" r="1.75" fill="#fff" stroke="#0a0a0a" stroke-width="0.75"/><circle cx="497.45" cy="411.12" r="1.75" fill="#fff" stroke="#0a0a0a" stroke-width="0.75"/><circle cx="490.25" cy="412.91" r="1.75" fill="#fff" stroke="#0a0a0a" stroke-width="0.75"/><text transform="translate(392.25,426.20) rotate(-90)" font-size="5.9" fill="#fff">1.00</text><text transform="translate(402.35,426.20) rotate(-90)" font-size="5.9" fill="#111">0.93</text><text transform="translate(423.35,426.20) rotate(-90)" font-size="5.9" fill="#fff">1.00</text><text transform="translate(433.45,426.20) rotate(-90)" font-size="5.9" fill="#111">0.70</text><text transform="translate(454.45,426.20) rotate(-90)" font-size="5.9" fill="#fff">1.00</text><text transform="translate(464.55,426.20) rotate(-90)" font-size="5.9" fill="#111">0.71</text><text transform="translate(485.85,426.20) rotate(-90)" font-size="5.9" fill="#fff">1.00</text><text transform="translate(495.95,426.20) rotate(-90)" font-size="5.9" fill="#111">0.38</text><line x1="380.50" y1="339.60" x2="380.50" y2="429.50" stroke="#111" stroke-width="1.0"/><line x1="373.70" y1="429.50" x2="499.30" y2="429.50" stroke="#111" stroke-width="1.0"/><line x1="373.70" y1="429.50" x2="380.00" y2="429.50" stroke="#111" stroke-width="1.0"/><text x="371.40" y="431.30" font-size="7.3" text-anchor="end" fill="#111" >0.0</text><line x1="373.70" y1="406.50" x2="380.00" y2="406.50" stroke="#111" stroke-width="1.0"/><text x="371.40" y="408.95" font-size="7.3" text-anchor="end" fill="#111" >0.5</text><line x1="373.70" y1="384.50" x2="380.00" y2="384.50" stroke="#111" stroke-width="1.0"/><text x="371.40" y="386.60" font-size="7.3" text-anchor="end" fill="#111" >1.0</text><line x1="373.70" y1="361.50" x2="380.00" y2="361.50" stroke="#111" stroke-width="1.0"/><text x="371.40" y="364.25" font-size="7.3" text-anchor="end" fill="#111" >1.5</text><line x1="373.70" y1="339.50" x2="380.00" y2="339.50" stroke="#111" stroke-width="1.0"/><text x="371.40" y="341.90" font-size="7.3" text-anchor="end" fill="#111" >2.0</text><line x1="395.50" y1="429.00" x2="395.50" y2="431.60" stroke="#111" stroke-width="0.9"/><text x="395.20" y="440.40" font-size="7.5" text-anchor="middle" fill="#111" >D1</text><line x1="426.50" y1="429.00" x2="426.50" y2="431.60" stroke="#111" stroke-width="0.9"/><text x="426.30" y="440.40" font-size="7.5" text-anchor="middle" fill="#111" >D3</text><line x1="457.50" y1="429.00" x2="457.50" y2="431.60" stroke="#111" stroke-width="0.9"/><text x="457.40" y="440.40" font-size="7.5" text-anchor="middle" fill="#111" >D5</text><line x1="488.50" y1="429.00" x2="488.50" y2="431.60" stroke="#111" stroke-width="0.9"/><text x="488.80" y="440.40" font-size="7.5" text-anchor="middle" fill="#111" >D7</text><text x="441.50" y="450.60" font-size="8.1" text-anchor="middle" fill="#111" textLength="91" lengthAdjust="spacingAndGlyphs">Treatment Timepoint (n = 3)</text><text x="395.20" y="368.60" font-size="5.15" text-anchor="middle" fill="#111"  style="stroke-width:0.06px">P = 0.4195</text><line x1="389.70" y1="374.50" x2="400.70" y2="374.50" stroke="#111" stroke-width="0.9"/><text x="426.30" y="367.70" font-size="5.15" text-anchor="middle" fill="#111"  style="stroke-width:0.06px">P = 0.1104</text><line x1="420.80" y1="373.50" x2="431.80" y2="373.50" stroke="#111" stroke-width="0.9"/><text x="457.40" y="369.00" font-size="5.15" text-anchor="middle" fill="#111"  style="stroke-width:0.06px">P = 0.0236</text><line x1="451.90" y1="374.50" x2="462.90" y2="374.50" stroke="#111" stroke-width="0.9"/><text x="488.80" y="367.70" font-size="5.15" text-anchor="middle" fill="#111"  style="stroke-width:0.06px">P &lt; 0.0001</text><line x1="483.30" y1="373.50" x2="494.30" y2="373.50" stroke="#111" stroke-width="0.9"/><text x="441.70" y="334.70" font-size="7.4" font-weight="bold" text-anchor="middle" fill="#111" >ENO1</text><rect x="381.20" y="341.30" width="3.80" height="3.80" fill="#476cc6" stroke="#111" stroke-width="0.5" /><rect x="381.20" y="351.00" width="3.80" height="3.80" fill="#5ca2da" stroke="#111" stroke-width="0.5" /><text x="391.80" y="345.70" font-size="7.8" text-anchor="start" fill="#111" textLength="49.91" lengthAdjust="spacingAndGlyphs">Vehicle Control</text><text x="391.80" y="355.40" font-size="7.8" text-anchor="start" fill="#111" textLength="52.09" lengthAdjust="spacingAndGlyphs">TMZRT Treated</text><text transform="translate(344.50,388.30) rotate(-90)" font-size="7.33" text-anchor="middle" fill="#111">Fold-Change Protein Levels</text><text transform="translate(353.90,388.30) rotate(-90)" font-size="7.15" text-anchor="middle" fill="#111">Normalized to Ponceau S</text><rect x="565.40" y="384.30" width="10.10" height="44.90" fill="#476cc6" stroke="#111" stroke-width="0.7" /><rect x="575.50" y="384.30" width="10.10" height="44.90" fill="#5ca2da" stroke="#111" stroke-width="0.7" /><rect x="596.30" y="384.30" width="10.10" height="44.90" fill="#476cc6" stroke="#111" stroke-width="0.7" /><rect x="606.40" y="384.30" width="10.10" height="44.90" fill="#5ca2da" stroke="#111" stroke-width="0.7" /><rect x="627.30" y="384.30" width="10.10" height="44.90" fill="#476cc6" stroke="#111" stroke-width="0.7" /><rect x="637.40" y="395.97" width="10.10" height="33.23" fill="#5ca2da" stroke="#111" stroke-width="0.7" /><rect x="658.70" y="384.30" width="10.10" height="44.90" fill="#476cc6" stroke="#111" stroke-width="0.7" /><rect x="668.80" y="417.53" width="10.10" height="11.67" fill="#5ca2da" stroke="#111" stroke-width="0.7" /><line x1="580.55" y1="384.30" x2="580.55" y2="382.06" stroke="#111" stroke-width="0.7"/><line x1="578.55" y1="382.06" x2="582.55" y2="382.06" stroke="#111" stroke-width="0.7"/><circle cx="567.15" cy="384.30" r="1.75" fill="#fff" stroke="#0a0a0a" stroke-width="0.75"/><circle cx="570.45" cy="384.30" r="1.75" fill="#fff" stroke="#0a0a0a" stroke-width="0.75"/><circle cx="573.75" cy="384.30" r="1.75" fill="#fff" stroke="#0a0a0a" stroke-width="0.75"/><circle cx="580.55" cy="380.71" r="1.75" fill="#fff" stroke="#0a0a0a" stroke-width="0.75"/><circle cx="583.95" cy="385.20" r="1.75" fill="#fff" stroke="#0a0a0a" stroke-width="0.75"/><circle cx="576.95" cy="387.44" r="1.75" fill="#fff" stroke="#0a0a0a" stroke-width="0.75"/><line x1="611.45" y1="384.30" x2="611.45" y2="380.26" stroke="#111" stroke-width="0.7"/><line x1="609.45" y1="380.26" x2="613.45" y2="380.26" stroke="#111" stroke-width="0.7"/><circle cx="598.05" cy="384.30" r="1.75" fill="#fff" stroke="#0a0a0a" stroke-width="0.75"/><circle cx="601.35" cy="384.30" r="1.75" fill="#fff" stroke="#0a0a0a" stroke-width="0.75"/><circle cx="604.65" cy="384.30" r="1.75" fill="#fff" stroke="#0a0a0a" stroke-width="0.75"/><circle cx="611.45" cy="378.91" r="1.75" fill="#fff" stroke="#0a0a0a" stroke-width="0.75"/><circle cx="611.45" cy="383.40" r="1.75" fill="#fff" stroke="#0a0a0a" stroke-width="0.75"/><circle cx="611.45" cy="391.48" r="1.75" fill="#fff" stroke="#0a0a0a" stroke-width="0.75"/><line x1="642.45" y1="395.97" x2="642.45" y2="392.83" stroke="#111" stroke-width="0.7"/><line x1="640.45" y1="392.83" x2="644.45" y2="392.83" stroke="#111" stroke-width="0.7"/><circle cx="629.05" cy="384.30" r="1.75" fill="#fff" stroke="#0a0a0a" stroke-width="0.75"/><circle cx="632.35" cy="384.30" r="1.75" fill="#fff" stroke="#0a0a0a" stroke-width="0.75"/><circle cx="635.65" cy="384.30" r="1.75" fill="#fff" stroke="#0a0a0a" stroke-width="0.75"/><circle cx="642.45" cy="391.03" r="1.75" fill="#fff" stroke="#0a0a0a" stroke-width="0.75"/><circle cx="638.85" cy="395.08" r="1.75" fill="#fff" stroke="#0a0a0a" stroke-width="0.75"/><circle cx="645.85" cy="396.42" r="1.75" fill="#fff" stroke="#0a0a0a" stroke-width="0.75"/><line x1="673.85" y1="417.53" x2="673.85" y2="413.93" stroke="#111" stroke-width="0.7"/><line x1="671.85" y1="413.93" x2="675.85" y2="413.93" stroke="#111" stroke-width="0.7"/><circle cx="660.45" cy="384.30" r="1.75" fill="#fff" stroke="#0a0a0a" stroke-width="0.75"/><circle cx="663.75" cy="384.30" r="1.75" fill="#fff" stroke="#0a0a0a" stroke-width="0.75"/><circle cx="667.05" cy="384.30" r="1.75" fill="#fff" stroke="#0a0a0a" stroke-width="0.75"/><circle cx="673.85" cy="412.14" r="1.75" fill="#fff" stroke="#0a0a0a" stroke-width="0.75"/><circle cx="673.85" cy="414.83" r="1.75" fill="#fff" stroke="#0a0a0a" stroke-width="0.75"/><circle cx="673.85" cy="422.46" r="1.75" fill="#fff" stroke="#0a0a0a" stroke-width="0.75"/><text transform="translate(572.55,426.40) rotate(-90)" font-size="5.9" fill="#fff">1.00</text><text transform="translate(582.65,426.40) rotate(-90)" font-size="5.9" fill="#111">1.00</text><text transform="translate(603.45,426.40) rotate(-90)" font-size="5.9" fill="#fff">1.00</text><text transform="translate(613.55,426.40) rotate(-90)" font-size="5.9" fill="#111">1.00</text><text transform="translate(634.45,426.40) rotate(-90)" font-size="5.9" fill="#fff">1.00</text><text transform="translate(644.55,426.40) rotate(-90)" font-size="5.9" fill="#111">0.75</text><text transform="translate(665.85,426.40) rotate(-90)" font-size="5.9" fill="#fff">1.00</text><text transform="translate(675.55,408.00) rotate(-90)" font-size="5.9" fill="#111">0.27</text><line x1="560.50" y1="339.40" x2="560.50" y2="429.70" stroke="#111" stroke-width="1.0"/><line x1="554.30" y1="429.50" x2="680.50" y2="429.50" stroke="#111" stroke-width="1.0"/><line x1="554.30" y1="429.50" x2="560.60" y2="429.50" stroke="#111" stroke-width="1.0"/><text x="552.00" y="431.50" font-size="7.3" text-anchor="end" fill="#111" >0.0</text><line x1="554.30" y1="406.50" x2="560.60" y2="406.50" stroke="#111" stroke-width="1.0"/><text x="552.00" y="409.05" font-size="7.3" text-anchor="end" fill="#111" >0.5</text><line x1="554.30" y1="384.50" x2="560.60" y2="384.50" stroke="#111" stroke-width="1.0"/><text x="552.00" y="386.60" font-size="7.3" text-anchor="end" fill="#111" >1.0</text><line x1="554.30" y1="361.50" x2="560.60" y2="361.50" stroke="#111" stroke-width="1.0"/><text x="552.00" y="364.15" font-size="7.3" text-anchor="end" fill="#111" >1.5</text><line x1="554.30" y1="339.50" x2="560.60" y2="339.50" stroke="#111" stroke-width="1.0"/><text x="552.00" y="341.70" font-size="7.3" text-anchor="end" fill="#111" >2.0</text><line x1="575.50" y1="429.20" x2="575.50" y2="431.80" stroke="#111" stroke-width="0.9"/><text x="575.50" y="440.60" font-size="7.5" text-anchor="middle" fill="#111" >D1</text><line x1="606.50" y1="429.20" x2="606.50" y2="431.80" stroke="#111" stroke-width="0.9"/><text x="606.40" y="440.60" font-size="7.5" text-anchor="middle" fill="#111" >D3</text><line x1="637.50" y1="429.20" x2="637.50" y2="431.80" stroke="#111" stroke-width="0.9"/><text x="637.40" y="440.60" font-size="7.5" text-anchor="middle" fill="#111" >D5</text><line x1="668.50" y1="429.20" x2="668.50" y2="431.80" stroke="#111" stroke-width="0.9"/><text x="668.80" y="440.60" font-size="7.5" text-anchor="middle" fill="#111" >D7</text><text x="622.20" y="450.80" font-size="8.1" text-anchor="middle" fill="#111" textLength="91" lengthAdjust="spacingAndGlyphs">Treatment Timepoint (n = 3)</text><text x="575.50" y="369.90" font-size="5.15" text-anchor="middle" fill="#111"  style="stroke-width:0.06px">P = 0.9764</text><line x1="570.00" y1="375.50" x2="581.00" y2="375.50" stroke="#111" stroke-width="0.9"/><text x="606.40" y="368.50" font-size="5.15" text-anchor="middle" fill="#111"  style="stroke-width:0.06px">P = 0.9859</text><line x1="600.90" y1="374.50" x2="611.90" y2="374.50" stroke="#111" stroke-width="0.9"/><text x="637.40" y="370.80" font-size="5.15" text-anchor="middle" fill="#111"  style="stroke-width:0.06px">P = 0.0132</text><line x1="631.90" y1="376.50" x2="642.90" y2="376.50" stroke="#111" stroke-width="0.9"/><text x="668.80" y="373.20" font-size="5.15" text-anchor="middle" fill="#111"  style="stroke-width:0.06px">P = 0.0004</text><line x1="663.30" y1="378.50" x2="674.30" y2="378.50" stroke="#111" stroke-width="0.9"/><text x="622.30" y="334.70" font-size="7.4" font-weight="bold" text-anchor="middle" fill="#111" >LDHA</text><rect x="561.20" y="341.50" width="3.80" height="3.80" fill="#476cc6" stroke="#111" stroke-width="0.5" /><rect x="561.20" y="351.20" width="3.80" height="3.80" fill="#5ca2da" stroke="#111" stroke-width="0.5" /><text x="571.80" y="345.90" font-size="7.8" text-anchor="start" fill="#111" textLength="49.91" lengthAdjust="spacingAndGlyphs">Vehicle Control</text><text x="571.80" y="355.60" font-size="7.8" text-anchor="start" fill="#111" textLength="52.09" lengthAdjust="spacingAndGlyphs">TMZRT Treated</text><text transform="translate(525.10,388.30) rotate(-90)" font-size="7.33" text-anchor="middle" fill="#111">Fold-Change Protein Levels</text><text transform="translate(534.50,388.30) rotate(-90)" font-size="7.15" text-anchor="middle" fill="#111">Normalized to Ponceau S</text>
</svg></body></html>
